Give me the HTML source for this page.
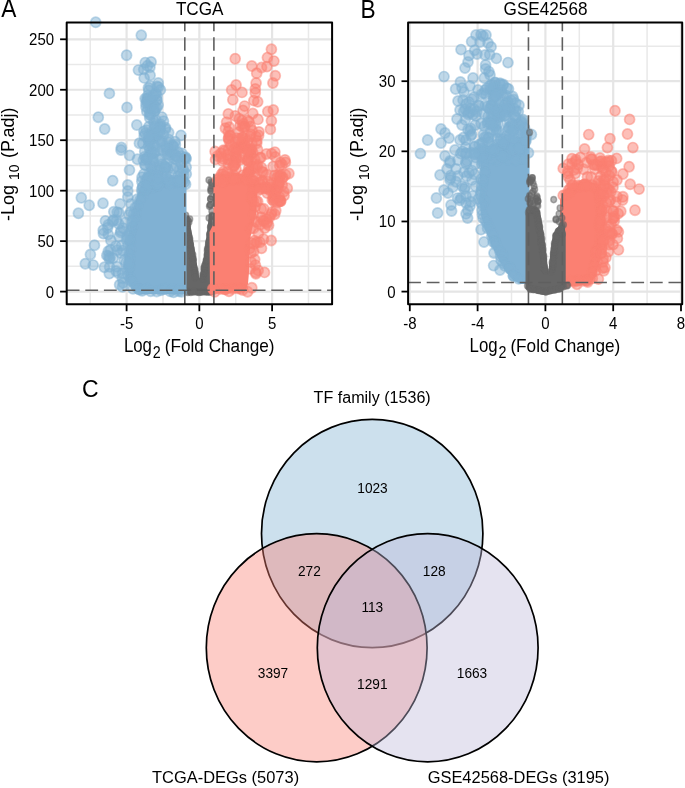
<!DOCTYPE html>
<html><head><meta charset="utf-8"><style>
html,body{margin:0;padding:0;background:#fff;width:685px;height:788px;overflow:hidden}
svg{display:block;filter:blur(0.35px)}
text{font-family:"Liberation Sans",sans-serif;fill:#000}
</style></head><body>
<svg width="685" height="788" viewBox="0 0 685 788">
<clipPath id="ca"><rect x="66.7" y="22.5" width="265.4" height="281.7"/></clipPath><g clip-path="url(#ca)"><line x1="90.22" y1="22.5" x2="90.22" y2="304.2" stroke="#e9e9e9" stroke-width="1.5"/><line x1="162.97" y1="22.5" x2="162.97" y2="304.2" stroke="#e9e9e9" stroke-width="1.5"/><line x1="235.72" y1="22.5" x2="235.72" y2="304.2" stroke="#e9e9e9" stroke-width="1.5"/><line x1="308.48" y1="22.5" x2="308.48" y2="304.2" stroke="#e9e9e9" stroke-width="1.5"/><line x1="66.7" y1="266.37" x2="332.1" y2="266.37" stroke="#e9e9e9" stroke-width="1.5"/><line x1="66.7" y1="215.91" x2="332.1" y2="215.91" stroke="#e9e9e9" stroke-width="1.5"/><line x1="66.7" y1="165.45" x2="332.1" y2="165.45" stroke="#e9e9e9" stroke-width="1.5"/><line x1="66.7" y1="114.99" x2="332.1" y2="114.99" stroke="#e9e9e9" stroke-width="1.5"/><line x1="66.7" y1="64.53" x2="332.1" y2="64.53" stroke="#e9e9e9" stroke-width="1.5"/><line x1="126.60" y1="22.5" x2="126.60" y2="304.2" stroke="#e5e5e5" stroke-width="2.2"/><line x1="199.35" y1="22.5" x2="199.35" y2="304.2" stroke="#e5e5e5" stroke-width="2.2"/><line x1="272.10" y1="22.5" x2="272.10" y2="304.2" stroke="#e5e5e5" stroke-width="2.2"/><line x1="66.7" y1="291.60" x2="332.1" y2="291.60" stroke="#e5e5e5" stroke-width="2.2"/><line x1="66.7" y1="241.14" x2="332.1" y2="241.14" stroke="#e5e5e5" stroke-width="2.2"/><line x1="66.7" y1="190.68" x2="332.1" y2="190.68" stroke="#e5e5e5" stroke-width="2.2"/><line x1="66.7" y1="140.22" x2="332.1" y2="140.22" stroke="#e5e5e5" stroke-width="2.2"/><line x1="66.7" y1="89.76" x2="332.1" y2="89.76" stroke="#e5e5e5" stroke-width="2.2"/><line x1="66.7" y1="39.30" x2="332.1" y2="39.30" stroke="#e5e5e5" stroke-width="2.2"/></g><path d="M186.0 218.0 L189.0 215.5 L191.3 230.0 L193.5 243.0 L195.8 256.7 L199.3 278.5 L203.8 256.7 L205.5 243.0 L207.3 230.0 L209.0 214.0 L212.0 213.0 L212.0 292.0 L209.0 295.3 L189.0 295.3 L186.0 292.0Z" fill="#666666"/><g fill="#666666" fill-opacity="0.5" stroke="#666666" stroke-opacity="0.5" stroke-width="1.4"><ellipse cx="210.0" cy="205.0" rx="2.9" ry="3.1"/><ellipse cx="211.0" cy="190.0" rx="2.9" ry="3.1"/><ellipse cx="211.0" cy="182.0" rx="2.9" ry="3.1"/><ellipse cx="212.0" cy="197.0" rx="2.9" ry="3.1"/><ellipse cx="209.0" cy="218.0" rx="2.9" ry="3.1"/><ellipse cx="189.0" cy="222.0" rx="2.9" ry="3.1"/><ellipse cx="188.0" cy="220.4" rx="2.9" ry="3.1"/><ellipse cx="189.8" cy="219.0" rx="2.9" ry="3.1"/><ellipse cx="185.8" cy="215.4" rx="2.9" ry="3.1"/><ellipse cx="185.5" cy="218.0" rx="2.9" ry="3.1"/><ellipse cx="187.0" cy="219.8" rx="2.9" ry="3.1"/><ellipse cx="186.9" cy="222.6" rx="2.9" ry="3.1"/><ellipse cx="186.9" cy="225.1" rx="2.9" ry="3.1"/><ellipse cx="187.8" cy="224.8" rx="2.9" ry="3.1"/><ellipse cx="186.9" cy="226.8" rx="2.9" ry="3.1"/><ellipse cx="187.5" cy="230.3" rx="2.9" ry="3.1"/><ellipse cx="188.0" cy="231.8" rx="2.9" ry="3.1"/><ellipse cx="187.7" cy="232.1" rx="2.9" ry="3.1"/><ellipse cx="188.8" cy="235.2" rx="2.9" ry="3.1"/><ellipse cx="189.1" cy="236.9" rx="2.9" ry="3.1"/><ellipse cx="189.9" cy="239.0" rx="2.9" ry="3.1"/><ellipse cx="189.8" cy="241.5" rx="2.9" ry="3.1"/><ellipse cx="189.8" cy="243.8" rx="2.9" ry="3.1"/><ellipse cx="190.2" cy="244.2" rx="2.9" ry="3.1"/><ellipse cx="190.6" cy="245.1" rx="2.9" ry="3.1"/><ellipse cx="191.5" cy="248.9" rx="2.9" ry="3.1"/><ellipse cx="191.2" cy="251.4" rx="2.9" ry="3.1"/><ellipse cx="191.9" cy="252.5" rx="2.9" ry="3.1"/><ellipse cx="192.9" cy="254.9" rx="2.9" ry="3.1"/><ellipse cx="191.7" cy="256.9" rx="2.9" ry="3.1"/><ellipse cx="193.5" cy="258.9" rx="2.9" ry="3.1"/><ellipse cx="192.7" cy="259.8" rx="2.9" ry="3.1"/><ellipse cx="193.1" cy="260.4" rx="2.9" ry="3.1"/><ellipse cx="192.7" cy="263.3" rx="2.9" ry="3.1"/><ellipse cx="193.3" cy="264.6" rx="2.9" ry="3.1"/><ellipse cx="193.6" cy="267.8" rx="2.9" ry="3.1"/><ellipse cx="195.1" cy="269.6" rx="2.9" ry="3.1"/><ellipse cx="194.5" cy="271.4" rx="2.9" ry="3.1"/><ellipse cx="195.6" cy="273.1" rx="2.9" ry="3.1"/><ellipse cx="194.7" cy="273.4" rx="2.9" ry="3.1"/><ellipse cx="195.5" cy="276.0" rx="2.9" ry="3.1"/><ellipse cx="195.0" cy="277.6" rx="2.9" ry="3.1"/><ellipse cx="202.8" cy="279.2" rx="2.9" ry="3.1"/><ellipse cx="203.2" cy="276.3" rx="2.9" ry="3.1"/><ellipse cx="202.8" cy="274.9" rx="2.9" ry="3.1"/><ellipse cx="204.5" cy="272.8" rx="2.9" ry="3.1"/><ellipse cx="204.0" cy="270.6" rx="2.9" ry="3.1"/><ellipse cx="203.9" cy="268.2" rx="2.9" ry="3.1"/><ellipse cx="204.3" cy="267.6" rx="2.9" ry="3.1"/><ellipse cx="204.4" cy="265.8" rx="2.9" ry="3.1"/><ellipse cx="205.4" cy="263.7" rx="2.9" ry="3.1"/><ellipse cx="206.4" cy="260.7" rx="2.9" ry="3.1"/><ellipse cx="206.1" cy="260.3" rx="2.9" ry="3.1"/><ellipse cx="207.3" cy="259.7" rx="2.9" ry="3.1"/><ellipse cx="207.2" cy="255.5" rx="2.9" ry="3.1"/><ellipse cx="207.1" cy="254.6" rx="2.9" ry="3.1"/><ellipse cx="207.2" cy="250.8" rx="2.9" ry="3.1"/><ellipse cx="208.1" cy="248.8" rx="2.9" ry="3.1"/><ellipse cx="207.4" cy="248.3" rx="2.9" ry="3.1"/><ellipse cx="209.1" cy="245.7" rx="2.9" ry="3.1"/><ellipse cx="208.4" cy="244.3" rx="2.9" ry="3.1"/><ellipse cx="209.0" cy="242.5" rx="2.9" ry="3.1"/><ellipse cx="208.7" cy="241.5" rx="2.9" ry="3.1"/><ellipse cx="210.1" cy="238.4" rx="2.9" ry="3.1"/><ellipse cx="210.1" cy="235.9" rx="2.9" ry="3.1"/><ellipse cx="209.7" cy="234.3" rx="2.9" ry="3.1"/><ellipse cx="209.7" cy="233.7" rx="2.9" ry="3.1"/><ellipse cx="211.2" cy="230.9" rx="2.9" ry="3.1"/><ellipse cx="211.6" cy="229.2" rx="2.9" ry="3.1"/><ellipse cx="210.4" cy="227.2" rx="2.9" ry="3.1"/><ellipse cx="210.6" cy="226.2" rx="2.9" ry="3.1"/><ellipse cx="212.0" cy="222.5" rx="2.9" ry="3.1"/><ellipse cx="212.0" cy="220.4" rx="2.9" ry="3.1"/><ellipse cx="212.4" cy="219.5" rx="2.9" ry="3.1"/><ellipse cx="212.0" cy="216.3" rx="2.9" ry="3.1"/><ellipse cx="212.0" cy="215.3" rx="2.9" ry="3.1"/><ellipse cx="212.8" cy="216.0" rx="2.9" ry="3.1"/><ellipse cx="188.0" cy="291.6" rx="2.9" ry="3.1"/><ellipse cx="187.7" cy="292.5" rx="2.9" ry="3.1"/><ellipse cx="190.8" cy="292.4" rx="2.9" ry="3.1"/><ellipse cx="193.6" cy="291.8" rx="2.9" ry="3.1"/><ellipse cx="194.0" cy="291.4" rx="2.9" ry="3.1"/><ellipse cx="197.3" cy="292.0" rx="2.9" ry="3.1"/><ellipse cx="198.8" cy="292.4" rx="2.9" ry="3.1"/><ellipse cx="200.2" cy="291.7" rx="2.9" ry="3.1"/><ellipse cx="201.1" cy="292.1" rx="2.9" ry="3.1"/><ellipse cx="203.1" cy="291.6" rx="2.9" ry="3.1"/><ellipse cx="206.1" cy="291.9" rx="2.9" ry="3.1"/><ellipse cx="208.0" cy="291.9" rx="2.9" ry="3.1"/><ellipse cx="210.0" cy="292.0" rx="2.9" ry="3.1"/><ellipse cx="210.5" cy="291.9" rx="2.9" ry="3.1"/><ellipse cx="208.9" cy="180.1" rx="2.9" ry="3.1"/><ellipse cx="212.0" cy="185.9" rx="2.9" ry="3.1"/><ellipse cx="210.4" cy="204.7" rx="2.9" ry="3.1"/><ellipse cx="210.8" cy="191.1" rx="2.9" ry="3.1"/><ellipse cx="210.6" cy="198.9" rx="2.9" ry="3.1"/><ellipse cx="211.9" cy="183.6" rx="2.9" ry="3.1"/><ellipse cx="210.8" cy="188.4" rx="2.9" ry="3.1"/><ellipse cx="209.4" cy="206.3" rx="2.9" ry="3.1"/><ellipse cx="210.5" cy="199.1" rx="2.9" ry="3.1"/><ellipse cx="211.8" cy="211.0" rx="2.9" ry="3.1"/></g><path d="M139.0 190.0 L150.0 183.0 L165.0 178.0 L178.0 176.0 L186.5 178.0 L186.5 290.0 L184.0 294.0 L142.0 294.0 L132.0 290.0 L126.0 278.0 L125.0 258.0 L128.0 238.0 L133.0 209.0Z" fill="#80b1d3"/><g fill="#80b1d3" fill-opacity="0.5" stroke="#80b1d3" stroke-opacity="0.5" stroke-width="1.7"><ellipse cx="95.7" cy="22.3" rx="5.0" ry="5.1"/><ellipse cx="141.3" cy="35.3" rx="5.0" ry="5.1"/><ellipse cx="126.6" cy="55.2" rx="5.0" ry="5.1"/><ellipse cx="145.2" cy="62.6" rx="5.0" ry="5.1"/><ellipse cx="151.1" cy="61.9" rx="5.0" ry="5.1"/><ellipse cx="138.4" cy="70.1" rx="5.0" ry="5.1"/><ellipse cx="150.1" cy="75.2" rx="5.0" ry="5.1"/><ellipse cx="144.2" cy="77.9" rx="5.0" ry="5.1"/><ellipse cx="158.3" cy="83.0" rx="5.0" ry="5.1"/><ellipse cx="109.4" cy="93.4" rx="5.0" ry="5.1"/><ellipse cx="127.0" cy="107.4" rx="5.0" ry="5.1"/><ellipse cx="98.3" cy="117.2" rx="5.0" ry="5.1"/><ellipse cx="104.7" cy="129.0" rx="5.0" ry="5.1"/><ellipse cx="136.8" cy="125.0" rx="5.0" ry="5.1"/><ellipse cx="181.0" cy="135.4" rx="5.0" ry="5.1"/><ellipse cx="121.4" cy="147.5" rx="5.0" ry="5.1"/><ellipse cx="129.6" cy="155.4" rx="5.0" ry="5.1"/><ellipse cx="137.4" cy="159.3" rx="5.0" ry="5.1"/><ellipse cx="178.5" cy="157.9" rx="5.0" ry="5.1"/><ellipse cx="168.7" cy="132.5" rx="5.0" ry="5.1"/><ellipse cx="171.6" cy="145.2" rx="5.0" ry="5.1"/><ellipse cx="139.4" cy="143.2" rx="5.0" ry="5.1"/><ellipse cx="146.4" cy="130.1" rx="5.0" ry="5.1"/><ellipse cx="142.8" cy="143.4" rx="5.0" ry="5.1"/><ellipse cx="129.5" cy="170.0" rx="5.0" ry="5.1"/><ellipse cx="112.7" cy="180.7" rx="5.0" ry="5.1"/><ellipse cx="142.0" cy="177.2" rx="5.0" ry="5.1"/><ellipse cx="127.8" cy="185.0" rx="5.0" ry="5.1"/><ellipse cx="127.8" cy="191.0" rx="5.0" ry="5.1"/><ellipse cx="127.8" cy="197.0" rx="5.0" ry="5.1"/><ellipse cx="81.3" cy="197.8" rx="5.0" ry="5.1"/><ellipse cx="89.2" cy="205.3" rx="5.0" ry="5.1"/><ellipse cx="103.0" cy="203.3" rx="5.0" ry="5.1"/><ellipse cx="78.4" cy="213.3" rx="5.0" ry="5.1"/><ellipse cx="113.8" cy="211.8" rx="5.0" ry="5.1"/><ellipse cx="120.1" cy="204.0" rx="5.0" ry="5.1"/><ellipse cx="108.3" cy="224.8" rx="5.0" ry="5.1"/><ellipse cx="103.4" cy="233.6" rx="5.0" ry="5.1"/><ellipse cx="108.3" cy="234.6" rx="5.0" ry="5.1"/><ellipse cx="110.9" cy="240.5" rx="5.0" ry="5.1"/><ellipse cx="94.5" cy="245.2" rx="5.0" ry="5.1"/><ellipse cx="90.4" cy="254.5" rx="5.0" ry="5.1"/><ellipse cx="85.3" cy="263.7" rx="5.0" ry="5.1"/><ellipse cx="93.2" cy="265.1" rx="5.0" ry="5.1"/><ellipse cx="104.4" cy="267.3" rx="5.0" ry="5.1"/><ellipse cx="109.3" cy="273.6" rx="5.0" ry="5.1"/><ellipse cx="108.3" cy="251.3" rx="5.0" ry="5.1"/><ellipse cx="117.2" cy="250.3" rx="5.0" ry="5.1"/><ellipse cx="118.1" cy="273.0" rx="5.0" ry="5.1"/><ellipse cx="123.1" cy="282.8" rx="5.0" ry="5.1"/><ellipse cx="121.0" cy="150.0" rx="5.0" ry="5.1"/><ellipse cx="119.1" cy="213.0" rx="5.0" ry="5.1"/><ellipse cx="129.0" cy="215.0" rx="5.0" ry="5.1"/><ellipse cx="121.0" cy="230.7" rx="5.0" ry="5.1"/><ellipse cx="184.4" cy="182.3" rx="5.0" ry="5.1"/><ellipse cx="181.7" cy="180.7" rx="5.0" ry="5.1"/><ellipse cx="177.9" cy="181.5" rx="5.0" ry="5.1"/><ellipse cx="177.9" cy="181.5" rx="5.0" ry="5.1"/><ellipse cx="174.7" cy="181.7" rx="5.0" ry="5.1"/><ellipse cx="167.7" cy="178.9" rx="5.0" ry="5.1"/><ellipse cx="165.4" cy="179.7" rx="5.0" ry="5.1"/><ellipse cx="166.5" cy="182.4" rx="5.0" ry="5.1"/><ellipse cx="158.8" cy="183.9" rx="5.0" ry="5.1"/><ellipse cx="156.5" cy="185.4" rx="5.0" ry="5.1"/><ellipse cx="152.9" cy="187.0" rx="5.0" ry="5.1"/><ellipse cx="152.8" cy="187.6" rx="5.0" ry="5.1"/><ellipse cx="147.9" cy="186.9" rx="5.0" ry="5.1"/><ellipse cx="146.8" cy="187.0" rx="5.0" ry="5.1"/><ellipse cx="146.3" cy="187.6" rx="5.0" ry="5.1"/><ellipse cx="141.7" cy="189.8" rx="5.0" ry="5.1"/><ellipse cx="142.3" cy="192.1" rx="5.0" ry="5.1"/><ellipse cx="143.1" cy="195.6" rx="5.0" ry="5.1"/><ellipse cx="137.3" cy="199.3" rx="5.0" ry="5.1"/><ellipse cx="140.2" cy="199.6" rx="5.0" ry="5.1"/><ellipse cx="137.6" cy="205.9" rx="5.0" ry="5.1"/><ellipse cx="135.2" cy="207.8" rx="5.0" ry="5.1"/><ellipse cx="136.0" cy="213.4" rx="5.0" ry="5.1"/><ellipse cx="133.6" cy="213.9" rx="5.0" ry="5.1"/><ellipse cx="132.9" cy="219.3" rx="5.0" ry="5.1"/><ellipse cx="135.5" cy="219.4" rx="5.0" ry="5.1"/><ellipse cx="131.5" cy="226.8" rx="5.0" ry="5.1"/><ellipse cx="132.4" cy="227.4" rx="5.0" ry="5.1"/><ellipse cx="131.3" cy="230.2" rx="5.0" ry="5.1"/><ellipse cx="130.8" cy="232.1" rx="5.0" ry="5.1"/><ellipse cx="129.6" cy="234.5" rx="5.0" ry="5.1"/><ellipse cx="130.2" cy="240.7" rx="5.0" ry="5.1"/><ellipse cx="130.5" cy="241.4" rx="5.0" ry="5.1"/><ellipse cx="127.9" cy="245.2" rx="5.0" ry="5.1"/><ellipse cx="130.7" cy="248.8" rx="5.0" ry="5.1"/><ellipse cx="129.0" cy="254.4" rx="5.0" ry="5.1"/><ellipse cx="130.0" cy="255.2" rx="5.0" ry="5.1"/><ellipse cx="129.8" cy="259.0" rx="5.0" ry="5.1"/><ellipse cx="129.3" cy="265.0" rx="5.0" ry="5.1"/><ellipse cx="130.0" cy="266.6" rx="5.0" ry="5.1"/><ellipse cx="128.4" cy="269.3" rx="5.0" ry="5.1"/><ellipse cx="127.2" cy="269.5" rx="5.0" ry="5.1"/><ellipse cx="128.1" cy="275.5" rx="5.0" ry="5.1"/><ellipse cx="130.5" cy="278.5" rx="5.0" ry="5.1"/><ellipse cx="130.4" cy="280.4" rx="5.0" ry="5.1"/><ellipse cx="132.1" cy="281.9" rx="5.0" ry="5.1"/><ellipse cx="133.0" cy="288.9" rx="5.0" ry="5.1"/><ellipse cx="136.6" cy="287.2" rx="5.0" ry="5.1"/><ellipse cx="138.9" cy="289.0" rx="5.0" ry="5.1"/><ellipse cx="139.3" cy="289.6" rx="5.0" ry="5.1"/><ellipse cx="142.2" cy="290.8" rx="5.0" ry="5.1"/><ellipse cx="144.0" cy="289.0" rx="5.0" ry="5.1"/><ellipse cx="147.2" cy="288.7" rx="5.0" ry="5.1"/><ellipse cx="150.7" cy="291.2" rx="5.0" ry="5.1"/><ellipse cx="156.7" cy="291.5" rx="5.0" ry="5.1"/><ellipse cx="160.8" cy="290.3" rx="5.0" ry="5.1"/><ellipse cx="163.1" cy="289.3" rx="5.0" ry="5.1"/><ellipse cx="165.8" cy="288.8" rx="5.0" ry="5.1"/><ellipse cx="170.2" cy="291.4" rx="5.0" ry="5.1"/><ellipse cx="172.6" cy="289.2" rx="5.0" ry="5.1"/><ellipse cx="173.6" cy="292.3" rx="5.0" ry="5.1"/><ellipse cx="178.9" cy="291.2" rx="5.0" ry="5.1"/><ellipse cx="181.5" cy="291.7" rx="5.0" ry="5.1"/><ellipse cx="179.6" cy="289.2" rx="5.0" ry="5.1"/><ellipse cx="149.9" cy="67.2" rx="5.0" ry="5.1"/><ellipse cx="160.4" cy="89.9" rx="5.0" ry="5.1"/><ellipse cx="155.8" cy="93.3" rx="5.0" ry="5.1"/><ellipse cx="157.0" cy="86.5" rx="5.0" ry="5.1"/><ellipse cx="158.5" cy="87.1" rx="5.0" ry="5.1"/><ellipse cx="153.8" cy="95.0" rx="5.0" ry="5.1"/><ellipse cx="147.5" cy="65.7" rx="5.0" ry="5.1"/><ellipse cx="147.8" cy="98.5" rx="5.0" ry="5.1"/><ellipse cx="146.5" cy="99.0" rx="5.0" ry="5.1"/><ellipse cx="150.4" cy="86.0" rx="5.0" ry="5.1"/><ellipse cx="157.0" cy="100.3" rx="5.0" ry="5.1"/><ellipse cx="155.6" cy="94.1" rx="5.0" ry="5.1"/><ellipse cx="143.7" cy="69.4" rx="5.0" ry="5.1"/><ellipse cx="147.6" cy="99.2" rx="5.0" ry="5.1"/><ellipse cx="148.7" cy="90.4" rx="5.0" ry="5.1"/><ellipse cx="147.9" cy="95.6" rx="5.0" ry="5.1"/><ellipse cx="157.2" cy="95.8" rx="5.0" ry="5.1"/><ellipse cx="148.4" cy="87.8" rx="5.0" ry="5.1"/><ellipse cx="154.2" cy="111.3" rx="5.0" ry="5.1"/><ellipse cx="154.1" cy="123.7" rx="5.0" ry="5.1"/><ellipse cx="149.9" cy="102.3" rx="5.0" ry="5.1"/><ellipse cx="156.8" cy="100.0" rx="5.0" ry="5.1"/><ellipse cx="155.2" cy="126.0" rx="5.0" ry="5.1"/><ellipse cx="154.8" cy="110.8" rx="5.0" ry="5.1"/><ellipse cx="150.6" cy="99.9" rx="5.0" ry="5.1"/><ellipse cx="151.6" cy="106.1" rx="5.0" ry="5.1"/><ellipse cx="160.5" cy="124.4" rx="5.0" ry="5.1"/><ellipse cx="159.7" cy="126.6" rx="5.0" ry="5.1"/><ellipse cx="150.4" cy="108.0" rx="5.0" ry="5.1"/><ellipse cx="157.0" cy="107.6" rx="5.0" ry="5.1"/><ellipse cx="153.4" cy="104.6" rx="5.0" ry="5.1"/><ellipse cx="145.1" cy="98.6" rx="5.0" ry="5.1"/><ellipse cx="149.8" cy="112.9" rx="5.0" ry="5.1"/><ellipse cx="148.2" cy="108.1" rx="5.0" ry="5.1"/><ellipse cx="161.9" cy="117.1" rx="5.0" ry="5.1"/><ellipse cx="156.1" cy="120.2" rx="5.0" ry="5.1"/><ellipse cx="153.9" cy="121.3" rx="5.0" ry="5.1"/><ellipse cx="158.2" cy="105.0" rx="5.0" ry="5.1"/><ellipse cx="146.8" cy="111.5" rx="5.0" ry="5.1"/><ellipse cx="151.6" cy="105.4" rx="5.0" ry="5.1"/><ellipse cx="149.7" cy="118.0" rx="5.0" ry="5.1"/><ellipse cx="150.6" cy="114.5" rx="5.0" ry="5.1"/><ellipse cx="152.7" cy="100.9" rx="5.0" ry="5.1"/><ellipse cx="147.6" cy="102.3" rx="5.0" ry="5.1"/><ellipse cx="148.8" cy="126.7" rx="5.0" ry="5.1"/><ellipse cx="147.1" cy="101.7" rx="5.0" ry="5.1"/><ellipse cx="146.0" cy="107.0" rx="5.0" ry="5.1"/><ellipse cx="146.0" cy="103.4" rx="5.0" ry="5.1"/><ellipse cx="149.7" cy="114.9" rx="5.0" ry="5.1"/><ellipse cx="163.5" cy="121.2" rx="5.0" ry="5.1"/><ellipse cx="153.1" cy="109.5" rx="5.0" ry="5.1"/><ellipse cx="155.5" cy="108.2" rx="5.0" ry="5.1"/><ellipse cx="151.4" cy="97.2" rx="5.0" ry="5.1"/><ellipse cx="145.9" cy="158.7" rx="5.0" ry="5.1"/><ellipse cx="169.3" cy="182.8" rx="5.0" ry="5.1"/><ellipse cx="150.0" cy="143.2" rx="5.0" ry="5.1"/><ellipse cx="151.6" cy="151.8" rx="5.0" ry="5.1"/><ellipse cx="179.5" cy="183.5" rx="5.0" ry="5.1"/><ellipse cx="162.0" cy="164.3" rx="5.0" ry="5.1"/><ellipse cx="183.1" cy="180.3" rx="5.0" ry="5.1"/><ellipse cx="151.6" cy="132.3" rx="5.0" ry="5.1"/><ellipse cx="147.2" cy="160.0" rx="5.0" ry="5.1"/><ellipse cx="173.6" cy="168.4" rx="5.0" ry="5.1"/><ellipse cx="175.6" cy="155.6" rx="5.0" ry="5.1"/><ellipse cx="165.6" cy="127.6" rx="5.0" ry="5.1"/><ellipse cx="182.8" cy="168.2" rx="5.0" ry="5.1"/><ellipse cx="154.1" cy="133.6" rx="5.0" ry="5.1"/><ellipse cx="151.7" cy="167.6" rx="5.0" ry="5.1"/><ellipse cx="143.3" cy="160.1" rx="5.0" ry="5.1"/><ellipse cx="167.1" cy="151.0" rx="5.0" ry="5.1"/><ellipse cx="150.4" cy="165.3" rx="5.0" ry="5.1"/><ellipse cx="170.0" cy="184.2" rx="5.0" ry="5.1"/><ellipse cx="162.1" cy="140.7" rx="5.0" ry="5.1"/><ellipse cx="172.8" cy="145.6" rx="5.0" ry="5.1"/><ellipse cx="171.4" cy="153.1" rx="5.0" ry="5.1"/><ellipse cx="152.0" cy="169.7" rx="5.0" ry="5.1"/><ellipse cx="159.6" cy="170.7" rx="5.0" ry="5.1"/><ellipse cx="149.2" cy="178.4" rx="5.0" ry="5.1"/><ellipse cx="174.4" cy="158.8" rx="5.0" ry="5.1"/><ellipse cx="154.5" cy="179.9" rx="5.0" ry="5.1"/><ellipse cx="150.7" cy="139.8" rx="5.0" ry="5.1"/><ellipse cx="175.4" cy="144.8" rx="5.0" ry="5.1"/><ellipse cx="184.3" cy="158.2" rx="5.0" ry="5.1"/><ellipse cx="148.7" cy="140.0" rx="5.0" ry="5.1"/><ellipse cx="159.4" cy="169.6" rx="5.0" ry="5.1"/><ellipse cx="158.3" cy="139.3" rx="5.0" ry="5.1"/><ellipse cx="158.3" cy="185.2" rx="5.0" ry="5.1"/><ellipse cx="181.1" cy="174.1" rx="5.0" ry="5.1"/><ellipse cx="155.3" cy="137.4" rx="5.0" ry="5.1"/><ellipse cx="183.5" cy="175.0" rx="5.0" ry="5.1"/><ellipse cx="157.6" cy="150.1" rx="5.0" ry="5.1"/><ellipse cx="155.4" cy="136.3" rx="5.0" ry="5.1"/><ellipse cx="145.8" cy="189.6" rx="5.0" ry="5.1"/><ellipse cx="149.6" cy="148.9" rx="5.0" ry="5.1"/><ellipse cx="178.2" cy="180.1" rx="5.0" ry="5.1"/><ellipse cx="160.1" cy="128.3" rx="5.0" ry="5.1"/><ellipse cx="162.0" cy="150.0" rx="5.0" ry="5.1"/><ellipse cx="156.9" cy="185.1" rx="5.0" ry="5.1"/><ellipse cx="177.7" cy="176.4" rx="5.0" ry="5.1"/><ellipse cx="142.9" cy="186.6" rx="5.0" ry="5.1"/><ellipse cx="152.0" cy="175.1" rx="5.0" ry="5.1"/><ellipse cx="168.7" cy="142.6" rx="5.0" ry="5.1"/><ellipse cx="173.3" cy="146.2" rx="5.0" ry="5.1"/><ellipse cx="151.7" cy="153.8" rx="5.0" ry="5.1"/><ellipse cx="148.5" cy="178.8" rx="5.0" ry="5.1"/><ellipse cx="174.3" cy="180.1" rx="5.0" ry="5.1"/><ellipse cx="175.9" cy="165.7" rx="5.0" ry="5.1"/><ellipse cx="155.2" cy="146.4" rx="5.0" ry="5.1"/><ellipse cx="156.8" cy="177.4" rx="5.0" ry="5.1"/><ellipse cx="175.0" cy="141.6" rx="5.0" ry="5.1"/><ellipse cx="165.7" cy="146.8" rx="5.0" ry="5.1"/><ellipse cx="185.6" cy="184.2" rx="5.0" ry="5.1"/><ellipse cx="143.9" cy="131.5" rx="5.0" ry="5.1"/><ellipse cx="163.2" cy="172.6" rx="5.0" ry="5.1"/><ellipse cx="160.8" cy="140.7" rx="5.0" ry="5.1"/><ellipse cx="159.4" cy="166.6" rx="5.0" ry="5.1"/><ellipse cx="171.3" cy="175.1" rx="5.0" ry="5.1"/><ellipse cx="179.4" cy="169.5" rx="5.0" ry="5.1"/><ellipse cx="145.6" cy="181.3" rx="5.0" ry="5.1"/><ellipse cx="153.7" cy="163.0" rx="5.0" ry="5.1"/><ellipse cx="157.3" cy="174.5" rx="5.0" ry="5.1"/><ellipse cx="149.3" cy="141.6" rx="5.0" ry="5.1"/><ellipse cx="151.4" cy="135.3" rx="5.0" ry="5.1"/><ellipse cx="181.1" cy="163.7" rx="5.0" ry="5.1"/><ellipse cx="155.2" cy="151.5" rx="5.0" ry="5.1"/><ellipse cx="186.1" cy="159.0" rx="5.0" ry="5.1"/><ellipse cx="150.8" cy="179.2" rx="5.0" ry="5.1"/><ellipse cx="144.8" cy="156.8" rx="5.0" ry="5.1"/><ellipse cx="178.1" cy="181.3" rx="5.0" ry="5.1"/><ellipse cx="153.7" cy="133.0" rx="5.0" ry="5.1"/><ellipse cx="157.3" cy="183.0" rx="5.0" ry="5.1"/><ellipse cx="160.9" cy="142.4" rx="5.0" ry="5.1"/><ellipse cx="144.9" cy="164.9" rx="5.0" ry="5.1"/><ellipse cx="168.8" cy="139.6" rx="5.0" ry="5.1"/><ellipse cx="157.1" cy="134.5" rx="5.0" ry="5.1"/><ellipse cx="149.5" cy="142.1" rx="5.0" ry="5.1"/><ellipse cx="167.9" cy="168.7" rx="5.0" ry="5.1"/><ellipse cx="155.2" cy="170.4" rx="5.0" ry="5.1"/><ellipse cx="148.6" cy="145.9" rx="5.0" ry="5.1"/><ellipse cx="149.5" cy="178.3" rx="5.0" ry="5.1"/><ellipse cx="165.5" cy="129.2" rx="5.0" ry="5.1"/><ellipse cx="144.7" cy="151.5" rx="5.0" ry="5.1"/><ellipse cx="165.6" cy="167.8" rx="5.0" ry="5.1"/><ellipse cx="144.2" cy="136.0" rx="5.0" ry="5.1"/><ellipse cx="172.3" cy="152.5" rx="5.0" ry="5.1"/><ellipse cx="153.2" cy="145.6" rx="5.0" ry="5.1"/><ellipse cx="166.3" cy="148.9" rx="5.0" ry="5.1"/><ellipse cx="159.4" cy="182.9" rx="5.0" ry="5.1"/><ellipse cx="149.2" cy="173.8" rx="5.0" ry="5.1"/><ellipse cx="181.9" cy="153.4" rx="5.0" ry="5.1"/><ellipse cx="178.1" cy="152.2" rx="5.0" ry="5.1"/><ellipse cx="181.1" cy="155.9" rx="5.0" ry="5.1"/><ellipse cx="165.6" cy="167.9" rx="5.0" ry="5.1"/><ellipse cx="168.9" cy="149.8" rx="5.0" ry="5.1"/><ellipse cx="163.5" cy="134.8" rx="5.0" ry="5.1"/><ellipse cx="153.2" cy="159.9" rx="5.0" ry="5.1"/><ellipse cx="162.8" cy="178.9" rx="5.0" ry="5.1"/><ellipse cx="145.9" cy="188.2" rx="5.0" ry="5.1"/><ellipse cx="185.4" cy="157.3" rx="5.0" ry="5.1"/><ellipse cx="142.5" cy="187.1" rx="5.0" ry="5.1"/><ellipse cx="158.0" cy="185.6" rx="5.0" ry="5.1"/><ellipse cx="168.8" cy="180.2" rx="5.0" ry="5.1"/><ellipse cx="147.5" cy="177.7" rx="5.0" ry="5.1"/><ellipse cx="150.3" cy="152.1" rx="5.0" ry="5.1"/><ellipse cx="179.4" cy="180.6" rx="5.0" ry="5.1"/><ellipse cx="148.5" cy="139.6" rx="5.0" ry="5.1"/><ellipse cx="158.6" cy="159.7" rx="5.0" ry="5.1"/><ellipse cx="157.8" cy="133.2" rx="5.0" ry="5.1"/><ellipse cx="151.5" cy="173.6" rx="5.0" ry="5.1"/><ellipse cx="166.1" cy="175.7" rx="5.0" ry="5.1"/><ellipse cx="141.8" cy="181.2" rx="5.0" ry="5.1"/><ellipse cx="145.5" cy="165.2" rx="5.0" ry="5.1"/><ellipse cx="165.6" cy="167.0" rx="5.0" ry="5.1"/><ellipse cx="154.2" cy="153.1" rx="5.0" ry="5.1"/><ellipse cx="167.1" cy="153.5" rx="5.0" ry="5.1"/><ellipse cx="170.6" cy="154.9" rx="5.0" ry="5.1"/><ellipse cx="160.4" cy="126.6" rx="5.0" ry="5.1"/><ellipse cx="168.8" cy="157.8" rx="5.0" ry="5.1"/><ellipse cx="150.9" cy="176.2" rx="5.0" ry="5.1"/><ellipse cx="176.3" cy="155.7" rx="5.0" ry="5.1"/><ellipse cx="148.3" cy="156.7" rx="5.0" ry="5.1"/><ellipse cx="145.0" cy="133.6" rx="5.0" ry="5.1"/><ellipse cx="160.0" cy="131.1" rx="5.0" ry="5.1"/><ellipse cx="160.6" cy="159.2" rx="5.0" ry="5.1"/><ellipse cx="143.8" cy="174.1" rx="5.0" ry="5.1"/><ellipse cx="176.2" cy="159.3" rx="5.0" ry="5.1"/><ellipse cx="146.3" cy="182.4" rx="5.0" ry="5.1"/><ellipse cx="186.3" cy="174.0" rx="5.0" ry="5.1"/><ellipse cx="185.7" cy="158.0" rx="5.0" ry="5.1"/><ellipse cx="147.7" cy="177.8" rx="5.0" ry="5.1"/><ellipse cx="156.3" cy="175.7" rx="5.0" ry="5.1"/><ellipse cx="147.4" cy="185.1" rx="5.0" ry="5.1"/><ellipse cx="152.8" cy="179.6" rx="5.0" ry="5.1"/><ellipse cx="146.7" cy="158.6" rx="5.0" ry="5.1"/><ellipse cx="152.2" cy="158.9" rx="5.0" ry="5.1"/><ellipse cx="154.8" cy="127.5" rx="5.0" ry="5.1"/><ellipse cx="148.5" cy="135.8" rx="5.0" ry="5.1"/><ellipse cx="183.5" cy="170.5" rx="5.0" ry="5.1"/><ellipse cx="164.7" cy="167.6" rx="5.0" ry="5.1"/><ellipse cx="156.7" cy="183.5" rx="5.0" ry="5.1"/><ellipse cx="165.8" cy="163.9" rx="5.0" ry="5.1"/><ellipse cx="186.2" cy="167.2" rx="5.0" ry="5.1"/><ellipse cx="158.3" cy="178.4" rx="5.0" ry="5.1"/><ellipse cx="120.5" cy="232.4" rx="5.0" ry="5.1"/><ellipse cx="126.5" cy="239.8" rx="5.0" ry="5.1"/><ellipse cx="110.1" cy="257.5" rx="5.0" ry="5.1"/><ellipse cx="123.2" cy="228.1" rx="5.0" ry="5.1"/><ellipse cx="106.8" cy="255.4" rx="5.0" ry="5.1"/><ellipse cx="115.8" cy="246.1" rx="5.0" ry="5.1"/><ellipse cx="130.7" cy="211.9" rx="5.0" ry="5.1"/><ellipse cx="109.3" cy="258.8" rx="5.0" ry="5.1"/><ellipse cx="113.4" cy="220.2" rx="5.0" ry="5.1"/><ellipse cx="120.7" cy="253.0" rx="5.0" ry="5.1"/><ellipse cx="108.5" cy="256.2" rx="5.0" ry="5.1"/><ellipse cx="117.2" cy="212.1" rx="5.0" ry="5.1"/><ellipse cx="132.0" cy="221.9" rx="5.0" ry="5.1"/><ellipse cx="122.4" cy="278.4" rx="5.0" ry="5.1"/><ellipse cx="127.0" cy="236.2" rx="5.0" ry="5.1"/><ellipse cx="122.6" cy="250.6" rx="5.0" ry="5.1"/><ellipse cx="113.2" cy="258.1" rx="5.0" ry="5.1"/><ellipse cx="125.5" cy="222.4" rx="5.0" ry="5.1"/><ellipse cx="130.9" cy="204.0" rx="5.0" ry="5.1"/><ellipse cx="119.0" cy="236.5" rx="5.0" ry="5.1"/><ellipse cx="119.6" cy="284.7" rx="5.0" ry="5.1"/><ellipse cx="121.5" cy="245.6" rx="5.0" ry="5.1"/><ellipse cx="122.5" cy="273.2" rx="5.0" ry="5.1"/><ellipse cx="107.6" cy="227.8" rx="5.0" ry="5.1"/><ellipse cx="129.0" cy="267.1" rx="5.0" ry="5.1"/><ellipse cx="116.9" cy="266.8" rx="5.0" ry="5.1"/><ellipse cx="116.5" cy="220.3" rx="5.0" ry="5.1"/><ellipse cx="105.4" cy="220.9" rx="5.0" ry="5.1"/><ellipse cx="103.2" cy="230.2" rx="5.0" ry="5.1"/><ellipse cx="126.0" cy="262.6" rx="5.0" ry="5.1"/><ellipse cx="129.1" cy="264.1" rx="5.0" ry="5.1"/><ellipse cx="110.5" cy="249.8" rx="5.0" ry="5.1"/><ellipse cx="116.0" cy="271.0" rx="5.0" ry="5.1"/><ellipse cx="118.7" cy="223.9" rx="5.0" ry="5.1"/><ellipse cx="122.5" cy="286.9" rx="5.0" ry="5.1"/><ellipse cx="109.6" cy="266.9" rx="5.0" ry="5.1"/><ellipse cx="112.5" cy="221.5" rx="5.0" ry="5.1"/><ellipse cx="124.2" cy="259.9" rx="5.0" ry="5.1"/><ellipse cx="128.9" cy="262.8" rx="5.0" ry="5.1"/><ellipse cx="129.4" cy="239.3" rx="5.0" ry="5.1"/></g><path d="M213.5 178.0 L222.0 174.0 L235.0 173.0 L248.0 175.0 L255.0 180.0 L257.0 188.0 L257.0 200.0 L256.0 215.0 L252.0 229.0 L250.0 240.0 L250.0 250.0 L249.0 260.0 L249.0 272.0 L248.0 284.0 L245.0 292.0 L210.0 294.0 L209.5 232.0 L213.5 224.0Z" fill="#fb8072"/><g fill="#fb8072" fill-opacity="0.5" stroke="#fb8072" stroke-opacity="0.5" stroke-width="1.7"><ellipse cx="271.4" cy="49.3" rx="5.0" ry="5.1"/><ellipse cx="235.2" cy="58.7" rx="5.0" ry="5.1"/><ellipse cx="267.4" cy="57.6" rx="5.0" ry="5.1"/><ellipse cx="273.9" cy="61.1" rx="5.0" ry="5.1"/><ellipse cx="251.8" cy="66.0" rx="5.0" ry="5.1"/><ellipse cx="261.6" cy="67.5" rx="5.0" ry="5.1"/><ellipse cx="266.9" cy="66.6" rx="5.0" ry="5.1"/><ellipse cx="256.7" cy="73.2" rx="5.0" ry="5.1"/><ellipse cx="275.3" cy="75.8" rx="5.0" ry="5.1"/><ellipse cx="272.9" cy="83.0" rx="5.0" ry="5.1"/><ellipse cx="256.1" cy="83.0" rx="5.0" ry="5.1"/><ellipse cx="236.1" cy="85.0" rx="5.0" ry="5.1"/><ellipse cx="231.6" cy="90.0" rx="5.0" ry="5.1"/><ellipse cx="242.0" cy="92.4" rx="5.0" ry="5.1"/><ellipse cx="255.3" cy="88.9" rx="5.0" ry="5.1"/><ellipse cx="255.3" cy="92.8" rx="5.0" ry="5.1"/><ellipse cx="232.8" cy="99.8" rx="5.0" ry="5.1"/><ellipse cx="253.8" cy="100.6" rx="5.0" ry="5.1"/><ellipse cx="257.7" cy="101.8" rx="5.0" ry="5.1"/><ellipse cx="244.6" cy="106.1" rx="5.0" ry="5.1"/><ellipse cx="243.0" cy="110.4" rx="5.0" ry="5.1"/><ellipse cx="267.8" cy="111.5" rx="5.0" ry="5.1"/><ellipse cx="273.3" cy="110.0" rx="5.0" ry="5.1"/><ellipse cx="228.3" cy="113.9" rx="5.0" ry="5.1"/><ellipse cx="252.8" cy="113.5" rx="5.0" ry="5.1"/><ellipse cx="235.2" cy="115.9" rx="5.0" ry="5.1"/><ellipse cx="239.1" cy="118.8" rx="5.0" ry="5.1"/><ellipse cx="258.0" cy="119.4" rx="5.0" ry="5.1"/><ellipse cx="271.4" cy="120.7" rx="5.0" ry="5.1"/><ellipse cx="248.9" cy="121.7" rx="5.0" ry="5.1"/><ellipse cx="240.1" cy="125.6" rx="5.0" ry="5.1"/><ellipse cx="250.4" cy="126.6" rx="5.0" ry="5.1"/><ellipse cx="244.9" cy="126.6" rx="5.0" ry="5.1"/><ellipse cx="225.4" cy="128.2" rx="5.0" ry="5.1"/><ellipse cx="270.4" cy="129.2" rx="5.0" ry="5.1"/><ellipse cx="259.0" cy="131.9" rx="5.0" ry="5.1"/><ellipse cx="230.3" cy="135.4" rx="5.0" ry="5.1"/><ellipse cx="258.6" cy="135.4" rx="5.0" ry="5.1"/><ellipse cx="229.3" cy="141.3" rx="5.0" ry="5.1"/><ellipse cx="243.0" cy="137.4" rx="5.0" ry="5.1"/><ellipse cx="242.0" cy="142.3" rx="5.0" ry="5.1"/><ellipse cx="256.7" cy="143.2" rx="5.0" ry="5.1"/><ellipse cx="223.4" cy="150.1" rx="5.0" ry="5.1"/><ellipse cx="217.6" cy="156.0" rx="5.0" ry="5.1"/><ellipse cx="250.8" cy="155.0" rx="5.0" ry="5.1"/><ellipse cx="266.5" cy="154.0" rx="5.0" ry="5.1"/><ellipse cx="275.3" cy="156.9" rx="5.0" ry="5.1"/><ellipse cx="285.0" cy="159.9" rx="5.0" ry="5.1"/><ellipse cx="237.0" cy="149.0" rx="5.0" ry="5.1"/><ellipse cx="233.2" cy="157.0" rx="5.0" ry="5.1"/><ellipse cx="245.2" cy="138.8" rx="5.0" ry="5.1"/><ellipse cx="227.9" cy="159.6" rx="5.0" ry="5.1"/><ellipse cx="285.4" cy="162.4" rx="5.0" ry="5.1"/><ellipse cx="288.9" cy="173.5" rx="5.0" ry="5.1"/><ellipse cx="273.0" cy="166.6" rx="5.0" ry="5.1"/><ellipse cx="277.1" cy="177.7" rx="5.0" ry="5.1"/><ellipse cx="275.7" cy="190.2" rx="5.0" ry="5.1"/><ellipse cx="263.9" cy="221.2" rx="5.0" ry="5.1"/><ellipse cx="271.2" cy="240.5" rx="5.0" ry="5.1"/><ellipse cx="264.5" cy="272.4" rx="5.0" ry="5.1"/><ellipse cx="217.8" cy="180.1" rx="5.0" ry="5.1"/><ellipse cx="219.5" cy="177.8" rx="5.0" ry="5.1"/><ellipse cx="221.6" cy="174.1" rx="5.0" ry="5.1"/><ellipse cx="225.0" cy="176.3" rx="5.0" ry="5.1"/><ellipse cx="223.3" cy="174.3" rx="5.0" ry="5.1"/><ellipse cx="231.7" cy="177.6" rx="5.0" ry="5.1"/><ellipse cx="232.0" cy="176.8" rx="5.0" ry="5.1"/><ellipse cx="237.5" cy="178.1" rx="5.0" ry="5.1"/><ellipse cx="238.2" cy="179.2" rx="5.0" ry="5.1"/><ellipse cx="246.5" cy="175.4" rx="5.0" ry="5.1"/><ellipse cx="242.8" cy="175.2" rx="5.0" ry="5.1"/><ellipse cx="250.9" cy="180.5" rx="5.0" ry="5.1"/><ellipse cx="253.3" cy="181.0" rx="5.0" ry="5.1"/><ellipse cx="242.7" cy="290.0" rx="5.0" ry="5.1"/><ellipse cx="240.2" cy="288.7" rx="5.0" ry="5.1"/><ellipse cx="237.3" cy="288.2" rx="5.0" ry="5.1"/><ellipse cx="232.4" cy="288.7" rx="5.0" ry="5.1"/><ellipse cx="229.0" cy="291.3" rx="5.0" ry="5.1"/><ellipse cx="224.9" cy="289.4" rx="5.0" ry="5.1"/><ellipse cx="225.5" cy="289.3" rx="5.0" ry="5.1"/><ellipse cx="220.5" cy="289.0" rx="5.0" ry="5.1"/><ellipse cx="214.8" cy="291.8" rx="5.0" ry="5.1"/><ellipse cx="213.4" cy="289.2" rx="5.0" ry="5.1"/><ellipse cx="212.7" cy="288.6" rx="5.0" ry="5.1"/><ellipse cx="235.6" cy="163.2" rx="5.0" ry="5.1"/><ellipse cx="249.1" cy="150.6" rx="5.0" ry="5.1"/><ellipse cx="235.8" cy="157.2" rx="5.0" ry="5.1"/><ellipse cx="250.6" cy="153.7" rx="5.0" ry="5.1"/><ellipse cx="223.4" cy="171.7" rx="5.0" ry="5.1"/><ellipse cx="235.9" cy="147.5" rx="5.0" ry="5.1"/><ellipse cx="242.0" cy="146.3" rx="5.0" ry="5.1"/><ellipse cx="248.7" cy="171.6" rx="5.0" ry="5.1"/><ellipse cx="248.6" cy="168.7" rx="5.0" ry="5.1"/><ellipse cx="229.6" cy="159.5" rx="5.0" ry="5.1"/><ellipse cx="231.4" cy="179.5" rx="5.0" ry="5.1"/><ellipse cx="217.8" cy="179.4" rx="5.0" ry="5.1"/><ellipse cx="215.1" cy="151.5" rx="5.0" ry="5.1"/><ellipse cx="225.6" cy="179.9" rx="5.0" ry="5.1"/><ellipse cx="236.1" cy="158.6" rx="5.0" ry="5.1"/><ellipse cx="252.9" cy="152.6" rx="5.0" ry="5.1"/><ellipse cx="234.3" cy="164.8" rx="5.0" ry="5.1"/><ellipse cx="247.2" cy="173.9" rx="5.0" ry="5.1"/><ellipse cx="242.4" cy="157.3" rx="5.0" ry="5.1"/><ellipse cx="228.4" cy="149.4" rx="5.0" ry="5.1"/><ellipse cx="251.1" cy="170.1" rx="5.0" ry="5.1"/><ellipse cx="246.6" cy="150.0" rx="5.0" ry="5.1"/><ellipse cx="233.3" cy="174.7" rx="5.0" ry="5.1"/><ellipse cx="239.5" cy="148.2" rx="5.0" ry="5.1"/><ellipse cx="234.3" cy="179.3" rx="5.0" ry="5.1"/><ellipse cx="224.5" cy="150.9" rx="5.0" ry="5.1"/><ellipse cx="227.3" cy="171.8" rx="5.0" ry="5.1"/><ellipse cx="251.1" cy="149.3" rx="5.0" ry="5.1"/><ellipse cx="220.9" cy="153.2" rx="5.0" ry="5.1"/><ellipse cx="228.4" cy="164.4" rx="5.0" ry="5.1"/><ellipse cx="221.1" cy="156.5" rx="5.0" ry="5.1"/><ellipse cx="222.3" cy="183.0" rx="5.0" ry="5.1"/><ellipse cx="246.1" cy="147.2" rx="5.0" ry="5.1"/><ellipse cx="249.0" cy="173.1" rx="5.0" ry="5.1"/><ellipse cx="233.1" cy="151.0" rx="5.0" ry="5.1"/><ellipse cx="242.1" cy="147.4" rx="5.0" ry="5.1"/><ellipse cx="223.1" cy="158.9" rx="5.0" ry="5.1"/><ellipse cx="215.5" cy="159.4" rx="5.0" ry="5.1"/><ellipse cx="248.8" cy="171.4" rx="5.0" ry="5.1"/><ellipse cx="236.0" cy="168.9" rx="5.0" ry="5.1"/><ellipse cx="234.4" cy="148.8" rx="5.0" ry="5.1"/><ellipse cx="240.6" cy="159.6" rx="5.0" ry="5.1"/><ellipse cx="246.6" cy="180.2" rx="5.0" ry="5.1"/><ellipse cx="232.9" cy="166.5" rx="5.0" ry="5.1"/><ellipse cx="247.0" cy="160.3" rx="5.0" ry="5.1"/><ellipse cx="227.4" cy="154.7" rx="5.0" ry="5.1"/><ellipse cx="260.0" cy="157.6" rx="5.0" ry="5.1"/><ellipse cx="251.0" cy="161.9" rx="5.0" ry="5.1"/><ellipse cx="250.0" cy="150.3" rx="5.0" ry="5.1"/><ellipse cx="238.7" cy="132.2" rx="5.0" ry="5.1"/><ellipse cx="247.4" cy="120.4" rx="5.0" ry="5.1"/><ellipse cx="237.0" cy="158.0" rx="5.0" ry="5.1"/><ellipse cx="251.7" cy="149.6" rx="5.0" ry="5.1"/><ellipse cx="228.5" cy="138.3" rx="5.0" ry="5.1"/><ellipse cx="238.8" cy="149.2" rx="5.0" ry="5.1"/><ellipse cx="236.5" cy="152.1" rx="5.0" ry="5.1"/><ellipse cx="248.7" cy="157.8" rx="5.0" ry="5.1"/><ellipse cx="235.4" cy="141.9" rx="5.0" ry="5.1"/><ellipse cx="243.2" cy="123.8" rx="5.0" ry="5.1"/><ellipse cx="255.1" cy="166.7" rx="5.0" ry="5.1"/><ellipse cx="242.0" cy="120.6" rx="5.0" ry="5.1"/><ellipse cx="244.7" cy="144.8" rx="5.0" ry="5.1"/><ellipse cx="251.9" cy="143.2" rx="5.0" ry="5.1"/><ellipse cx="248.0" cy="160.6" rx="5.0" ry="5.1"/><ellipse cx="242.1" cy="137.6" rx="5.0" ry="5.1"/><ellipse cx="250.2" cy="136.6" rx="5.0" ry="5.1"/><ellipse cx="236.9" cy="138.1" rx="5.0" ry="5.1"/><ellipse cx="250.9" cy="134.4" rx="5.0" ry="5.1"/><ellipse cx="229.3" cy="127.3" rx="5.0" ry="5.1"/><ellipse cx="253.1" cy="166.7" rx="5.0" ry="5.1"/><ellipse cx="242.4" cy="127.0" rx="5.0" ry="5.1"/><ellipse cx="256.1" cy="136.6" rx="5.0" ry="5.1"/><ellipse cx="226.6" cy="122.1" rx="5.0" ry="5.1"/><ellipse cx="254.8" cy="159.5" rx="5.0" ry="5.1"/><ellipse cx="247.7" cy="140.8" rx="5.0" ry="5.1"/><ellipse cx="244.1" cy="127.4" rx="5.0" ry="5.1"/><ellipse cx="247.9" cy="160.0" rx="5.0" ry="5.1"/><ellipse cx="256.8" cy="140.7" rx="5.0" ry="5.1"/><ellipse cx="230.7" cy="145.2" rx="5.0" ry="5.1"/><ellipse cx="222.3" cy="160.9" rx="5.0" ry="5.1"/><ellipse cx="233.7" cy="161.8" rx="5.0" ry="5.1"/><ellipse cx="229.4" cy="135.7" rx="5.0" ry="5.1"/><ellipse cx="228.7" cy="138.4" rx="5.0" ry="5.1"/><ellipse cx="252.1" cy="130.5" rx="5.0" ry="5.1"/><ellipse cx="228.2" cy="131.6" rx="5.0" ry="5.1"/><ellipse cx="240.0" cy="138.6" rx="5.0" ry="5.1"/><ellipse cx="247.9" cy="151.3" rx="5.0" ry="5.1"/><ellipse cx="234.1" cy="166.1" rx="5.0" ry="5.1"/><ellipse cx="257.4" cy="164.8" rx="5.0" ry="5.1"/><ellipse cx="257.6" cy="149.8" rx="5.0" ry="5.1"/><ellipse cx="261.0" cy="157.6" rx="5.0" ry="5.1"/><ellipse cx="257.1" cy="167.5" rx="5.0" ry="5.1"/><ellipse cx="279.9" cy="176.0" rx="5.0" ry="5.1"/><ellipse cx="280.5" cy="162.6" rx="5.0" ry="5.1"/><ellipse cx="284.1" cy="195.6" rx="5.0" ry="5.1"/><ellipse cx="280.1" cy="200.1" rx="5.0" ry="5.1"/><ellipse cx="282.2" cy="164.8" rx="5.0" ry="5.1"/><ellipse cx="276.9" cy="189.8" rx="5.0" ry="5.1"/><ellipse cx="278.7" cy="182.9" rx="5.0" ry="5.1"/><ellipse cx="283.8" cy="191.6" rx="5.0" ry="5.1"/><ellipse cx="261.5" cy="167.6" rx="5.0" ry="5.1"/><ellipse cx="257.0" cy="187.0" rx="5.0" ry="5.1"/><ellipse cx="254.1" cy="185.0" rx="5.0" ry="5.1"/><ellipse cx="257.2" cy="186.9" rx="5.0" ry="5.1"/><ellipse cx="269.9" cy="190.5" rx="5.0" ry="5.1"/><ellipse cx="282.3" cy="185.1" rx="5.0" ry="5.1"/><ellipse cx="272.3" cy="199.9" rx="5.0" ry="5.1"/><ellipse cx="282.3" cy="178.1" rx="5.0" ry="5.1"/><ellipse cx="267.1" cy="222.0" rx="5.0" ry="5.1"/><ellipse cx="274.9" cy="152.1" rx="5.0" ry="5.1"/><ellipse cx="273.9" cy="201.2" rx="5.0" ry="5.1"/><ellipse cx="285.5" cy="174.8" rx="5.0" ry="5.1"/><ellipse cx="287.3" cy="188.3" rx="5.0" ry="5.1"/><ellipse cx="269.4" cy="217.3" rx="5.0" ry="5.1"/><ellipse cx="274.5" cy="175.4" rx="5.0" ry="5.1"/><ellipse cx="283.0" cy="177.5" rx="5.0" ry="5.1"/><ellipse cx="269.1" cy="189.4" rx="5.0" ry="5.1"/><ellipse cx="279.7" cy="165.8" rx="5.0" ry="5.1"/><ellipse cx="267.7" cy="181.7" rx="5.0" ry="5.1"/><ellipse cx="271.9" cy="212.0" rx="5.0" ry="5.1"/><ellipse cx="266.5" cy="187.8" rx="5.0" ry="5.1"/><ellipse cx="261.8" cy="188.0" rx="5.0" ry="5.1"/><ellipse cx="280.5" cy="174.8" rx="5.0" ry="5.1"/><ellipse cx="263.4" cy="172.4" rx="5.0" ry="5.1"/><ellipse cx="273.1" cy="197.6" rx="5.0" ry="5.1"/><ellipse cx="271.6" cy="153.7" rx="5.0" ry="5.1"/><ellipse cx="273.9" cy="199.4" rx="5.0" ry="5.1"/><ellipse cx="274.0" cy="196.3" rx="5.0" ry="5.1"/><ellipse cx="253.7" cy="251.4" rx="5.0" ry="5.1"/><ellipse cx="255.3" cy="206.8" rx="5.0" ry="5.1"/><ellipse cx="261.2" cy="208.9" rx="5.0" ry="5.1"/><ellipse cx="261.5" cy="248.3" rx="5.0" ry="5.1"/><ellipse cx="279.6" cy="176.7" rx="5.0" ry="5.1"/><ellipse cx="266.4" cy="174.8" rx="5.0" ry="5.1"/><ellipse cx="250.3" cy="268.9" rx="5.0" ry="5.1"/><ellipse cx="262.1" cy="171.7" rx="5.0" ry="5.1"/><ellipse cx="259.9" cy="242.2" rx="5.0" ry="5.1"/><ellipse cx="263.1" cy="220.3" rx="5.0" ry="5.1"/><ellipse cx="249.7" cy="248.6" rx="5.0" ry="5.1"/><ellipse cx="253.6" cy="188.5" rx="5.0" ry="5.1"/><ellipse cx="270.6" cy="184.8" rx="5.0" ry="5.1"/><ellipse cx="277.3" cy="185.7" rx="5.0" ry="5.1"/><ellipse cx="254.7" cy="259.5" rx="5.0" ry="5.1"/><ellipse cx="252.7" cy="176.1" rx="5.0" ry="5.1"/><ellipse cx="279.6" cy="201.0" rx="5.0" ry="5.1"/><ellipse cx="272.3" cy="190.3" rx="5.0" ry="5.1"/><ellipse cx="266.7" cy="223.5" rx="5.0" ry="5.1"/><ellipse cx="270.4" cy="187.7" rx="5.0" ry="5.1"/><ellipse cx="274.7" cy="214.3" rx="5.0" ry="5.1"/><ellipse cx="261.0" cy="217.1" rx="5.0" ry="5.1"/><ellipse cx="256.5" cy="177.4" rx="5.0" ry="5.1"/><ellipse cx="275.8" cy="210.5" rx="5.0" ry="5.1"/><ellipse cx="257.1" cy="222.3" rx="5.0" ry="5.1"/><ellipse cx="255.5" cy="221.5" rx="5.0" ry="5.1"/><ellipse cx="277.9" cy="175.2" rx="5.0" ry="5.1"/><ellipse cx="255.9" cy="273.8" rx="5.0" ry="5.1"/><ellipse cx="274.7" cy="194.5" rx="5.0" ry="5.1"/><ellipse cx="254.4" cy="244.0" rx="5.0" ry="5.1"/><ellipse cx="253.4" cy="201.1" rx="5.0" ry="5.1"/><ellipse cx="262.5" cy="180.7" rx="5.0" ry="5.1"/><ellipse cx="254.4" cy="240.7" rx="5.0" ry="5.1"/><ellipse cx="264.8" cy="228.1" rx="5.0" ry="5.1"/><ellipse cx="267.2" cy="193.1" rx="5.0" ry="5.1"/><ellipse cx="252.9" cy="192.0" rx="5.0" ry="5.1"/><ellipse cx="271.2" cy="214.3" rx="5.0" ry="5.1"/><ellipse cx="266.3" cy="219.1" rx="5.0" ry="5.1"/><ellipse cx="264.6" cy="188.2" rx="5.0" ry="5.1"/><ellipse cx="247.6" cy="291.7" rx="5.0" ry="5.1"/><ellipse cx="259.5" cy="182.9" rx="5.0" ry="5.1"/><ellipse cx="251.6" cy="242.9" rx="5.0" ry="5.1"/><ellipse cx="258.4" cy="233.4" rx="5.0" ry="5.1"/><ellipse cx="263.5" cy="239.2" rx="5.0" ry="5.1"/><ellipse cx="255.4" cy="265.1" rx="5.0" ry="5.1"/><ellipse cx="280.7" cy="201.0" rx="5.0" ry="5.1"/><ellipse cx="252.5" cy="180.2" rx="5.0" ry="5.1"/><ellipse cx="260.3" cy="184.6" rx="5.0" ry="5.1"/><ellipse cx="280.5" cy="201.4" rx="5.0" ry="5.1"/><ellipse cx="260.2" cy="224.7" rx="5.0" ry="5.1"/><ellipse cx="251.8" cy="287.8" rx="5.0" ry="5.1"/><ellipse cx="251.2" cy="262.1" rx="5.0" ry="5.1"/><ellipse cx="256.8" cy="242.2" rx="5.0" ry="5.1"/><ellipse cx="273.3" cy="182.9" rx="5.0" ry="5.1"/><ellipse cx="257.7" cy="201.4" rx="5.0" ry="5.1"/><ellipse cx="250.5" cy="228.7" rx="5.0" ry="5.1"/><ellipse cx="252.1" cy="199.1" rx="5.0" ry="5.1"/><ellipse cx="251.2" cy="252.7" rx="5.0" ry="5.1"/><ellipse cx="279.4" cy="196.9" rx="5.0" ry="5.1"/><ellipse cx="278.0" cy="187.1" rx="5.0" ry="5.1"/><ellipse cx="262.1" cy="181.8" rx="5.0" ry="5.1"/><ellipse cx="268.6" cy="225.2" rx="5.0" ry="5.1"/><ellipse cx="258.2" cy="270.4" rx="5.0" ry="5.1"/><ellipse cx="251.1" cy="197.0" rx="5.0" ry="5.1"/><ellipse cx="265.9" cy="187.7" rx="5.0" ry="5.1"/><ellipse cx="277.3" cy="202.5" rx="5.0" ry="5.1"/><ellipse cx="260.8" cy="189.0" rx="5.0" ry="5.1"/><ellipse cx="255.8" cy="272.4" rx="5.0" ry="5.1"/><ellipse cx="258.0" cy="190.5" rx="5.0" ry="5.1"/><ellipse cx="263.7" cy="208.8" rx="5.0" ry="5.1"/><ellipse cx="278.5" cy="183.9" rx="5.0" ry="5.1"/><ellipse cx="253.6" cy="228.2" rx="5.0" ry="5.1"/><ellipse cx="256.3" cy="201.5" rx="5.0" ry="5.1"/><ellipse cx="253.3" cy="214.4" rx="5.0" ry="5.1"/><ellipse cx="279.3" cy="181.9" rx="5.0" ry="5.1"/></g><g clip-path="url(#ca)"><path d="M184.80 304.2V22.5" stroke="#5f5f5f" stroke-width="1.6" stroke-dasharray="13.4 6.1" fill="none"/><path d="M213.90 304.2V22.5" stroke="#5f5f5f" stroke-width="1.6" stroke-dasharray="13.4 6.1" fill="none"/><path d="M66.7 290.29H332.1" stroke="#5f5f5f" stroke-width="1.6" stroke-dasharray="12.8 5.8" fill="none"/></g><rect x="66.7" y="22.5" width="265.4" height="281.7" fill="none" stroke="#000" stroke-width="2" stroke-linejoin="round"/><line x1="60.1" y1="291.60" x2="66.7" y2="291.60" stroke="#000" stroke-width="1.8"/><text transform="translate(54.10,297.50) scale(1,1.04)" text-anchor="end" font-size="15">0</text><line x1="60.1" y1="241.14" x2="66.7" y2="241.14" stroke="#000" stroke-width="1.8"/><text transform="translate(54.10,247.04) scale(1,1.04)" text-anchor="end" font-size="15">50</text><line x1="60.1" y1="190.68" x2="66.7" y2="190.68" stroke="#000" stroke-width="1.8"/><text transform="translate(54.10,196.58) scale(1,1.04)" text-anchor="end" font-size="15">100</text><line x1="60.1" y1="140.22" x2="66.7" y2="140.22" stroke="#000" stroke-width="1.8"/><text transform="translate(54.10,146.12) scale(1,1.04)" text-anchor="end" font-size="15">150</text><line x1="60.1" y1="89.76" x2="66.7" y2="89.76" stroke="#000" stroke-width="1.8"/><text transform="translate(54.10,95.66) scale(1,1.04)" text-anchor="end" font-size="15">200</text><line x1="60.1" y1="39.30" x2="66.7" y2="39.30" stroke="#000" stroke-width="1.8"/><text transform="translate(54.10,45.20) scale(1,1.04)" text-anchor="end" font-size="15">250</text><line x1="126.60" y1="304.2" x2="126.60" y2="311.2" stroke="#000" stroke-width="1.8"/><text transform="translate(126.60,329.00) scale(1,1.04)" text-anchor="middle" font-size="15">-5</text><line x1="199.35" y1="304.2" x2="199.35" y2="311.2" stroke="#000" stroke-width="1.8"/><text transform="translate(199.35,329.00) scale(1,1.04)" text-anchor="middle" font-size="15">0</text><line x1="272.10" y1="304.2" x2="272.10" y2="311.2" stroke="#000" stroke-width="1.8"/><text transform="translate(272.10,329.00) scale(1,1.04)" text-anchor="middle" font-size="15">5</text>
<clipPath id="cb"><rect x="408.1" y="22.5" width="274.1" height="281.7"/></clipPath><g clip-path="url(#cb)"><line x1="443.70" y1="22.5" x2="443.70" y2="304.2" stroke="#e9e9e9" stroke-width="1.5"/><line x1="511.50" y1="22.5" x2="511.50" y2="304.2" stroke="#e9e9e9" stroke-width="1.5"/><line x1="579.30" y1="22.5" x2="579.30" y2="304.2" stroke="#e9e9e9" stroke-width="1.5"/><line x1="647.10" y1="22.5" x2="647.10" y2="304.2" stroke="#e9e9e9" stroke-width="1.5"/><line x1="408.1" y1="256.53" x2="682.2" y2="256.53" stroke="#e9e9e9" stroke-width="1.5"/><line x1="408.1" y1="186.40" x2="682.2" y2="186.40" stroke="#e9e9e9" stroke-width="1.5"/><line x1="408.1" y1="116.27" x2="682.2" y2="116.27" stroke="#e9e9e9" stroke-width="1.5"/><line x1="408.1" y1="46.13" x2="682.2" y2="46.13" stroke="#e9e9e9" stroke-width="1.5"/><line x1="409.80" y1="22.5" x2="409.80" y2="304.2" stroke="#e5e5e5" stroke-width="2.2"/><line x1="477.60" y1="22.5" x2="477.60" y2="304.2" stroke="#e5e5e5" stroke-width="2.2"/><line x1="545.40" y1="22.5" x2="545.40" y2="304.2" stroke="#e5e5e5" stroke-width="2.2"/><line x1="613.20" y1="22.5" x2="613.20" y2="304.2" stroke="#e5e5e5" stroke-width="2.2"/><line x1="681.00" y1="22.5" x2="681.00" y2="304.2" stroke="#e5e5e5" stroke-width="2.2"/><line x1="408.1" y1="291.60" x2="682.2" y2="291.60" stroke="#e5e5e5" stroke-width="2.2"/><line x1="408.1" y1="221.47" x2="682.2" y2="221.47" stroke="#e5e5e5" stroke-width="2.2"/><line x1="408.1" y1="151.33" x2="682.2" y2="151.33" stroke="#e5e5e5" stroke-width="2.2"/><line x1="408.1" y1="81.20" x2="682.2" y2="81.20" stroke="#e5e5e5" stroke-width="2.2"/></g><path d="M482.0 152.0 L495.0 147.0 L510.0 142.0 L520.0 137.0 L529.5 138.0 L529.5 284.0 L520.0 284.0 L513.0 280.0 L506.0 272.0 L500.0 262.0 L493.0 248.0 L486.0 232.0 L481.0 215.0 L479.5 200.0 L480.0 175.0Z" fill="#80b1d3"/><g fill="#80b1d3" fill-opacity="0.5" stroke="#80b1d3" stroke-opacity="0.5" stroke-width="1.7"><ellipse cx="476.0" cy="35.0" rx="5.0" ry="5.1"/><ellipse cx="481.0" cy="34.4" rx="5.0" ry="5.1"/><ellipse cx="486.0" cy="35.0" rx="5.0" ry="5.1"/><ellipse cx="483.0" cy="36.0" rx="5.0" ry="5.1"/><ellipse cx="471.6" cy="41.6" rx="5.0" ry="5.1"/><ellipse cx="480.0" cy="42.0" rx="5.0" ry="5.1"/><ellipse cx="488.0" cy="43.0" rx="5.0" ry="5.1"/><ellipse cx="461.0" cy="49.6" rx="5.0" ry="5.1"/><ellipse cx="469.0" cy="55.6" rx="5.0" ry="5.1"/><ellipse cx="477.0" cy="54.0" rx="5.0" ry="5.1"/><ellipse cx="485.0" cy="55.0" rx="5.0" ry="5.1"/><ellipse cx="468.0" cy="62.0" rx="5.0" ry="5.1"/><ellipse cx="465.0" cy="68.0" rx="5.0" ry="5.1"/><ellipse cx="485.6" cy="65.0" rx="5.0" ry="5.1"/><ellipse cx="485.6" cy="69.0" rx="5.0" ry="5.1"/><ellipse cx="508.0" cy="62.6" rx="5.0" ry="5.1"/><ellipse cx="444.0" cy="76.6" rx="5.0" ry="5.1"/><ellipse cx="473.0" cy="78.0" rx="5.0" ry="5.1"/><ellipse cx="460.4" cy="82.0" rx="5.0" ry="5.1"/><ellipse cx="455.6" cy="89.0" rx="5.0" ry="5.1"/><ellipse cx="464.0" cy="92.0" rx="5.0" ry="5.1"/><ellipse cx="474.0" cy="97.0" rx="5.0" ry="5.1"/><ellipse cx="458.0" cy="101.0" rx="5.0" ry="5.1"/><ellipse cx="466.0" cy="104.0" rx="5.0" ry="5.1"/><ellipse cx="479.0" cy="106.0" rx="5.0" ry="5.1"/><ellipse cx="457.0" cy="119.0" rx="5.0" ry="5.1"/><ellipse cx="441.0" cy="129.0" rx="5.0" ry="5.1"/><ellipse cx="445.0" cy="133.0" rx="5.0" ry="5.1"/><ellipse cx="449.0" cy="138.0" rx="5.0" ry="5.1"/><ellipse cx="427.6" cy="140.0" rx="5.0" ry="5.1"/><ellipse cx="441.0" cy="143.0" rx="5.0" ry="5.1"/><ellipse cx="420.4" cy="153.6" rx="5.0" ry="5.1"/><ellipse cx="445.0" cy="156.0" rx="5.0" ry="5.1"/><ellipse cx="470.0" cy="131.0" rx="5.0" ry="5.1"/><ellipse cx="522.0" cy="123.0" rx="5.0" ry="5.1"/><ellipse cx="526.0" cy="141.0" rx="5.0" ry="5.1"/><ellipse cx="450.0" cy="161.0" rx="5.0" ry="5.1"/><ellipse cx="447.0" cy="169.0" rx="5.0" ry="5.1"/><ellipse cx="440.0" cy="175.0" rx="5.0" ry="5.1"/><ellipse cx="456.0" cy="169.0" rx="5.0" ry="5.1"/><ellipse cx="450.0" cy="180.0" rx="5.0" ry="5.1"/><ellipse cx="453.0" cy="187.0" rx="5.0" ry="5.1"/><ellipse cx="444.0" cy="190.0" rx="5.0" ry="5.1"/><ellipse cx="448.0" cy="193.0" rx="5.0" ry="5.1"/><ellipse cx="436.4" cy="198.0" rx="5.0" ry="5.1"/><ellipse cx="451.0" cy="205.0" rx="5.0" ry="5.1"/><ellipse cx="451.6" cy="211.0" rx="5.0" ry="5.1"/><ellipse cx="437.6" cy="213.0" rx="5.0" ry="5.1"/><ellipse cx="467.6" cy="218.0" rx="5.0" ry="5.1"/><ellipse cx="461.0" cy="198.0" rx="5.0" ry="5.1"/><ellipse cx="481.0" cy="229.6" rx="5.0" ry="5.1"/><ellipse cx="484.0" cy="242.0" rx="5.0" ry="5.1"/><ellipse cx="494.0" cy="253.0" rx="5.0" ry="5.1"/><ellipse cx="493.6" cy="265.6" rx="5.0" ry="5.1"/><ellipse cx="500.0" cy="270.0" rx="5.0" ry="5.1"/><ellipse cx="466.0" cy="164.0" rx="5.0" ry="5.1"/><ellipse cx="472.0" cy="180.0" rx="5.0" ry="5.1"/><ellipse cx="460.0" cy="110.0" rx="5.0" ry="5.1"/><ellipse cx="463.0" cy="100.0" rx="5.0" ry="5.1"/><ellipse cx="462.0" cy="88.0" rx="5.0" ry="5.1"/><ellipse cx="470.0" cy="86.0" rx="5.0" ry="5.1"/><ellipse cx="495.0" cy="83.0" rx="5.0" ry="5.1"/><ellipse cx="478.0" cy="90.0" rx="5.0" ry="5.1"/><ellipse cx="455.0" cy="150.0" rx="5.0" ry="5.1"/><ellipse cx="460.0" cy="140.0" rx="5.0" ry="5.1"/><ellipse cx="462.0" cy="125.0" rx="5.0" ry="5.1"/><ellipse cx="458.0" cy="176.0" rx="5.0" ry="5.1"/><ellipse cx="462.0" cy="186.0" rx="5.0" ry="5.1"/><ellipse cx="466.0" cy="196.0" rx="5.0" ry="5.1"/><ellipse cx="470.0" cy="206.0" rx="5.0" ry="5.1"/><ellipse cx="464.0" cy="172.0" rx="5.0" ry="5.1"/><ellipse cx="458.0" cy="160.0" rx="5.0" ry="5.1"/><ellipse cx="476.0" cy="116.0" rx="5.0" ry="5.1"/><ellipse cx="490.0" cy="75.0" rx="5.0" ry="5.1"/><ellipse cx="531.4" cy="134.5" rx="5.0" ry="5.1"/><ellipse cx="524.0" cy="137.5" rx="5.0" ry="5.1"/><ellipse cx="525.6" cy="134.2" rx="5.0" ry="5.1"/><ellipse cx="518.6" cy="141.7" rx="5.0" ry="5.1"/><ellipse cx="514.8" cy="142.1" rx="5.0" ry="5.1"/><ellipse cx="510.4" cy="145.1" rx="5.0" ry="5.1"/><ellipse cx="509.1" cy="146.5" rx="5.0" ry="5.1"/><ellipse cx="504.4" cy="144.7" rx="5.0" ry="5.1"/><ellipse cx="505.3" cy="147.1" rx="5.0" ry="5.1"/><ellipse cx="499.8" cy="148.8" rx="5.0" ry="5.1"/><ellipse cx="498.4" cy="150.1" rx="5.0" ry="5.1"/><ellipse cx="493.4" cy="151.4" rx="5.0" ry="5.1"/><ellipse cx="492.6" cy="149.6" rx="5.0" ry="5.1"/><ellipse cx="486.2" cy="155.1" rx="5.0" ry="5.1"/><ellipse cx="483.6" cy="152.5" rx="5.0" ry="5.1"/><ellipse cx="484.8" cy="157.1" rx="5.0" ry="5.1"/><ellipse cx="483.3" cy="158.0" rx="5.0" ry="5.1"/><ellipse cx="482.9" cy="159.4" rx="5.0" ry="5.1"/><ellipse cx="481.8" cy="164.2" rx="5.0" ry="5.1"/><ellipse cx="484.0" cy="165.1" rx="5.0" ry="5.1"/><ellipse cx="485.1" cy="172.8" rx="5.0" ry="5.1"/><ellipse cx="484.4" cy="172.5" rx="5.0" ry="5.1"/><ellipse cx="481.0" cy="179.2" rx="5.0" ry="5.1"/><ellipse cx="483.1" cy="181.2" rx="5.0" ry="5.1"/><ellipse cx="483.2" cy="180.7" rx="5.0" ry="5.1"/><ellipse cx="481.6" cy="185.9" rx="5.0" ry="5.1"/><ellipse cx="481.7" cy="189.4" rx="5.0" ry="5.1"/><ellipse cx="480.9" cy="191.7" rx="5.0" ry="5.1"/><ellipse cx="480.5" cy="194.9" rx="5.0" ry="5.1"/><ellipse cx="482.8" cy="199.7" rx="5.0" ry="5.1"/><ellipse cx="484.5" cy="201.0" rx="5.0" ry="5.1"/><ellipse cx="481.2" cy="202.8" rx="5.0" ry="5.1"/><ellipse cx="482.4" cy="205.4" rx="5.0" ry="5.1"/><ellipse cx="482.0" cy="210.3" rx="5.0" ry="5.1"/><ellipse cx="482.4" cy="214.6" rx="5.0" ry="5.1"/><ellipse cx="483.2" cy="218.2" rx="5.0" ry="5.1"/><ellipse cx="485.5" cy="220.3" rx="5.0" ry="5.1"/><ellipse cx="487.0" cy="223.3" rx="5.0" ry="5.1"/><ellipse cx="489.3" cy="226.7" rx="5.0" ry="5.1"/><ellipse cx="487.5" cy="228.2" rx="5.0" ry="5.1"/><ellipse cx="491.8" cy="235.8" rx="5.0" ry="5.1"/><ellipse cx="493.1" cy="234.4" rx="5.0" ry="5.1"/><ellipse cx="494.7" cy="240.9" rx="5.0" ry="5.1"/><ellipse cx="493.1" cy="241.8" rx="5.0" ry="5.1"/><ellipse cx="495.2" cy="242.6" rx="5.0" ry="5.1"/><ellipse cx="496.5" cy="245.5" rx="5.0" ry="5.1"/><ellipse cx="499.7" cy="251.1" rx="5.0" ry="5.1"/><ellipse cx="500.6" cy="256.3" rx="5.0" ry="5.1"/><ellipse cx="503.1" cy="255.2" rx="5.0" ry="5.1"/><ellipse cx="501.2" cy="260.4" rx="5.0" ry="5.1"/><ellipse cx="503.5" cy="263.3" rx="5.0" ry="5.1"/><ellipse cx="504.8" cy="265.9" rx="5.0" ry="5.1"/><ellipse cx="509.8" cy="267.4" rx="5.0" ry="5.1"/><ellipse cx="509.8" cy="268.9" rx="5.0" ry="5.1"/><ellipse cx="514.3" cy="274.2" rx="5.0" ry="5.1"/><ellipse cx="513.5" cy="276.1" rx="5.0" ry="5.1"/><ellipse cx="513.3" cy="275.7" rx="5.0" ry="5.1"/><ellipse cx="518.7" cy="278.8" rx="5.0" ry="5.1"/><ellipse cx="493.4" cy="87.2" rx="5.0" ry="5.1"/><ellipse cx="507.7" cy="148.9" rx="5.0" ry="5.1"/><ellipse cx="510.7" cy="126.8" rx="5.0" ry="5.1"/><ellipse cx="512.6" cy="96.5" rx="5.0" ry="5.1"/><ellipse cx="515.4" cy="117.8" rx="5.0" ry="5.1"/><ellipse cx="507.8" cy="130.2" rx="5.0" ry="5.1"/><ellipse cx="504.0" cy="105.5" rx="5.0" ry="5.1"/><ellipse cx="493.4" cy="98.2" rx="5.0" ry="5.1"/><ellipse cx="506.1" cy="111.4" rx="5.0" ry="5.1"/><ellipse cx="498.6" cy="150.7" rx="5.0" ry="5.1"/><ellipse cx="493.2" cy="125.6" rx="5.0" ry="5.1"/><ellipse cx="505.1" cy="103.4" rx="5.0" ry="5.1"/><ellipse cx="485.1" cy="151.4" rx="5.0" ry="5.1"/><ellipse cx="502.7" cy="85.1" rx="5.0" ry="5.1"/><ellipse cx="500.2" cy="116.1" rx="5.0" ry="5.1"/><ellipse cx="492.6" cy="158.7" rx="5.0" ry="5.1"/><ellipse cx="497.8" cy="108.9" rx="5.0" ry="5.1"/><ellipse cx="513.7" cy="130.5" rx="5.0" ry="5.1"/><ellipse cx="521.9" cy="147.3" rx="5.0" ry="5.1"/><ellipse cx="506.3" cy="140.6" rx="5.0" ry="5.1"/><ellipse cx="516.9" cy="142.3" rx="5.0" ry="5.1"/><ellipse cx="504.3" cy="144.4" rx="5.0" ry="5.1"/><ellipse cx="515.3" cy="155.0" rx="5.0" ry="5.1"/><ellipse cx="488.0" cy="151.4" rx="5.0" ry="5.1"/><ellipse cx="482.2" cy="142.8" rx="5.0" ry="5.1"/><ellipse cx="509.5" cy="120.8" rx="5.0" ry="5.1"/><ellipse cx="501.6" cy="144.3" rx="5.0" ry="5.1"/><ellipse cx="523.0" cy="129.8" rx="5.0" ry="5.1"/><ellipse cx="499.8" cy="117.1" rx="5.0" ry="5.1"/><ellipse cx="503.5" cy="139.3" rx="5.0" ry="5.1"/><ellipse cx="495.8" cy="112.0" rx="5.0" ry="5.1"/><ellipse cx="508.1" cy="111.5" rx="5.0" ry="5.1"/><ellipse cx="497.1" cy="144.5" rx="5.0" ry="5.1"/><ellipse cx="521.9" cy="121.0" rx="5.0" ry="5.1"/><ellipse cx="502.9" cy="95.1" rx="5.0" ry="5.1"/><ellipse cx="496.3" cy="91.9" rx="5.0" ry="5.1"/><ellipse cx="509.0" cy="127.7" rx="5.0" ry="5.1"/><ellipse cx="486.1" cy="155.5" rx="5.0" ry="5.1"/><ellipse cx="497.2" cy="149.2" rx="5.0" ry="5.1"/><ellipse cx="521.4" cy="158.6" rx="5.0" ry="5.1"/><ellipse cx="491.6" cy="115.0" rx="5.0" ry="5.1"/><ellipse cx="484.2" cy="126.3" rx="5.0" ry="5.1"/><ellipse cx="505.4" cy="155.5" rx="5.0" ry="5.1"/><ellipse cx="518.4" cy="124.2" rx="5.0" ry="5.1"/><ellipse cx="506.3" cy="136.2" rx="5.0" ry="5.1"/><ellipse cx="500.3" cy="109.3" rx="5.0" ry="5.1"/><ellipse cx="510.0" cy="108.8" rx="5.0" ry="5.1"/><ellipse cx="526.6" cy="135.5" rx="5.0" ry="5.1"/><ellipse cx="506.7" cy="88.1" rx="5.0" ry="5.1"/><ellipse cx="499.6" cy="112.9" rx="5.0" ry="5.1"/><ellipse cx="508.4" cy="127.1" rx="5.0" ry="5.1"/><ellipse cx="523.4" cy="159.1" rx="5.0" ry="5.1"/><ellipse cx="504.9" cy="116.1" rx="5.0" ry="5.1"/><ellipse cx="498.1" cy="123.5" rx="5.0" ry="5.1"/><ellipse cx="496.9" cy="160.2" rx="5.0" ry="5.1"/><ellipse cx="520.8" cy="122.0" rx="5.0" ry="5.1"/><ellipse cx="487.2" cy="153.3" rx="5.0" ry="5.1"/><ellipse cx="514.4" cy="147.3" rx="5.0" ry="5.1"/><ellipse cx="528.5" cy="152.8" rx="5.0" ry="5.1"/><ellipse cx="501.8" cy="92.8" rx="5.0" ry="5.1"/><ellipse cx="495.6" cy="122.0" rx="5.0" ry="5.1"/><ellipse cx="505.7" cy="95.4" rx="5.0" ry="5.1"/><ellipse cx="490.6" cy="131.7" rx="5.0" ry="5.1"/><ellipse cx="510.3" cy="109.0" rx="5.0" ry="5.1"/><ellipse cx="484.0" cy="113.7" rx="5.0" ry="5.1"/><ellipse cx="519.0" cy="105.2" rx="5.0" ry="5.1"/><ellipse cx="496.3" cy="149.1" rx="5.0" ry="5.1"/><ellipse cx="509.6" cy="134.8" rx="5.0" ry="5.1"/><ellipse cx="491.2" cy="120.8" rx="5.0" ry="5.1"/><ellipse cx="508.0" cy="101.8" rx="5.0" ry="5.1"/><ellipse cx="512.4" cy="123.6" rx="5.0" ry="5.1"/><ellipse cx="501.3" cy="90.0" rx="5.0" ry="5.1"/><ellipse cx="489.4" cy="142.3" rx="5.0" ry="5.1"/><ellipse cx="487.0" cy="88.2" rx="5.0" ry="5.1"/><ellipse cx="490.0" cy="122.8" rx="5.0" ry="5.1"/><ellipse cx="520.7" cy="130.3" rx="5.0" ry="5.1"/><ellipse cx="482.6" cy="143.2" rx="5.0" ry="5.1"/><ellipse cx="497.2" cy="138.7" rx="5.0" ry="5.1"/><ellipse cx="498.6" cy="93.9" rx="5.0" ry="5.1"/><ellipse cx="494.5" cy="88.2" rx="5.0" ry="5.1"/><ellipse cx="524.5" cy="127.7" rx="5.0" ry="5.1"/><ellipse cx="498.4" cy="116.9" rx="5.0" ry="5.1"/><ellipse cx="500.1" cy="84.5" rx="5.0" ry="5.1"/><ellipse cx="523.9" cy="127.8" rx="5.0" ry="5.1"/><ellipse cx="511.1" cy="100.4" rx="5.0" ry="5.1"/><ellipse cx="484.1" cy="156.3" rx="5.0" ry="5.1"/><ellipse cx="524.2" cy="146.9" rx="5.0" ry="5.1"/><ellipse cx="496.3" cy="129.4" rx="5.0" ry="5.1"/><ellipse cx="500.3" cy="138.9" rx="5.0" ry="5.1"/><ellipse cx="492.4" cy="105.4" rx="5.0" ry="5.1"/><ellipse cx="523.1" cy="119.7" rx="5.0" ry="5.1"/><ellipse cx="490.2" cy="109.4" rx="5.0" ry="5.1"/><ellipse cx="490.8" cy="159.7" rx="5.0" ry="5.1"/><ellipse cx="495.7" cy="126.0" rx="5.0" ry="5.1"/><ellipse cx="487.4" cy="123.8" rx="5.0" ry="5.1"/><ellipse cx="500.1" cy="113.1" rx="5.0" ry="5.1"/><ellipse cx="485.1" cy="90.1" rx="5.0" ry="5.1"/><ellipse cx="493.5" cy="95.7" rx="5.0" ry="5.1"/><ellipse cx="495.3" cy="99.4" rx="5.0" ry="5.1"/><ellipse cx="483.6" cy="134.5" rx="5.0" ry="5.1"/><ellipse cx="498.0" cy="92.8" rx="5.0" ry="5.1"/><ellipse cx="494.7" cy="148.5" rx="5.0" ry="5.1"/><ellipse cx="488.0" cy="116.4" rx="5.0" ry="5.1"/><ellipse cx="521.3" cy="146.0" rx="5.0" ry="5.1"/><ellipse cx="489.5" cy="108.9" rx="5.0" ry="5.1"/><ellipse cx="516.0" cy="110.9" rx="5.0" ry="5.1"/><ellipse cx="492.7" cy="117.1" rx="5.0" ry="5.1"/><ellipse cx="488.2" cy="137.9" rx="5.0" ry="5.1"/><ellipse cx="494.3" cy="153.8" rx="5.0" ry="5.1"/><ellipse cx="509.6" cy="110.2" rx="5.0" ry="5.1"/><ellipse cx="493.6" cy="129.9" rx="5.0" ry="5.1"/><ellipse cx="492.0" cy="151.5" rx="5.0" ry="5.1"/><ellipse cx="487.8" cy="122.1" rx="5.0" ry="5.1"/><ellipse cx="507.5" cy="102.2" rx="5.0" ry="5.1"/><ellipse cx="518.3" cy="111.6" rx="5.0" ry="5.1"/><ellipse cx="512.9" cy="126.5" rx="5.0" ry="5.1"/><ellipse cx="496.6" cy="112.0" rx="5.0" ry="5.1"/><ellipse cx="486.0" cy="94.5" rx="5.0" ry="5.1"/><ellipse cx="508.4" cy="109.6" rx="5.0" ry="5.1"/><ellipse cx="505.5" cy="104.4" rx="5.0" ry="5.1"/><ellipse cx="485.1" cy="105.5" rx="5.0" ry="5.1"/><ellipse cx="492.6" cy="90.3" rx="5.0" ry="5.1"/><ellipse cx="515.7" cy="103.2" rx="5.0" ry="5.1"/><ellipse cx="501.0" cy="154.5" rx="5.0" ry="5.1"/><ellipse cx="518.4" cy="152.4" rx="5.0" ry="5.1"/><ellipse cx="495.0" cy="82.4" rx="5.0" ry="5.1"/><ellipse cx="513.9" cy="134.4" rx="5.0" ry="5.1"/><ellipse cx="498.5" cy="113.8" rx="5.0" ry="5.1"/><ellipse cx="513.0" cy="137.3" rx="5.0" ry="5.1"/><ellipse cx="493.7" cy="149.4" rx="5.0" ry="5.1"/><ellipse cx="498.5" cy="131.6" rx="5.0" ry="5.1"/><ellipse cx="490.5" cy="89.4" rx="5.0" ry="5.1"/><ellipse cx="524.9" cy="140.2" rx="5.0" ry="5.1"/><ellipse cx="483.9" cy="93.3" rx="5.0" ry="5.1"/><ellipse cx="491.3" cy="104.9" rx="5.0" ry="5.1"/><ellipse cx="499.9" cy="83.2" rx="5.0" ry="5.1"/><ellipse cx="496.6" cy="132.3" rx="5.0" ry="5.1"/><ellipse cx="490.4" cy="148.8" rx="5.0" ry="5.1"/><ellipse cx="508.8" cy="138.8" rx="5.0" ry="5.1"/><ellipse cx="494.0" cy="115.7" rx="5.0" ry="5.1"/><ellipse cx="514.2" cy="108.6" rx="5.0" ry="5.1"/><ellipse cx="482.0" cy="148.4" rx="5.0" ry="5.1"/><ellipse cx="484.0" cy="150.0" rx="5.0" ry="5.1"/><ellipse cx="493.5" cy="89.1" rx="5.0" ry="5.1"/><ellipse cx="525.0" cy="141.5" rx="5.0" ry="5.1"/><ellipse cx="486.0" cy="137.0" rx="5.0" ry="5.1"/><ellipse cx="500.5" cy="141.3" rx="5.0" ry="5.1"/><ellipse cx="486.2" cy="157.6" rx="5.0" ry="5.1"/><ellipse cx="501.9" cy="156.3" rx="5.0" ry="5.1"/><ellipse cx="514.5" cy="140.6" rx="5.0" ry="5.1"/><ellipse cx="521.0" cy="131.5" rx="5.0" ry="5.1"/><ellipse cx="503.3" cy="84.5" rx="5.0" ry="5.1"/><ellipse cx="514.8" cy="115.1" rx="5.0" ry="5.1"/><ellipse cx="506.1" cy="156.1" rx="5.0" ry="5.1"/><ellipse cx="488.0" cy="142.5" rx="5.0" ry="5.1"/><ellipse cx="484.1" cy="137.6" rx="5.0" ry="5.1"/><ellipse cx="507.7" cy="159.5" rx="5.0" ry="5.1"/><ellipse cx="512.0" cy="124.6" rx="5.0" ry="5.1"/><ellipse cx="493.7" cy="84.9" rx="5.0" ry="5.1"/><ellipse cx="498.8" cy="113.8" rx="5.0" ry="5.1"/><ellipse cx="491.5" cy="105.5" rx="5.0" ry="5.1"/><ellipse cx="488.4" cy="138.0" rx="5.0" ry="5.1"/><ellipse cx="513.5" cy="99.5" rx="5.0" ry="5.1"/><ellipse cx="493.4" cy="122.3" rx="5.0" ry="5.1"/><ellipse cx="502.9" cy="156.7" rx="5.0" ry="5.1"/><ellipse cx="498.5" cy="104.5" rx="5.0" ry="5.1"/><ellipse cx="508.5" cy="107.4" rx="5.0" ry="5.1"/><ellipse cx="520.3" cy="125.0" rx="5.0" ry="5.1"/><ellipse cx="513.3" cy="129.1" rx="5.0" ry="5.1"/><ellipse cx="503.7" cy="142.8" rx="5.0" ry="5.1"/><ellipse cx="495.6" cy="109.6" rx="5.0" ry="5.1"/><ellipse cx="491.7" cy="84.9" rx="5.0" ry="5.1"/><ellipse cx="495.2" cy="96.2" rx="5.0" ry="5.1"/><ellipse cx="515.0" cy="116.7" rx="5.0" ry="5.1"/><ellipse cx="487.3" cy="106.6" rx="5.0" ry="5.1"/><ellipse cx="504.0" cy="109.8" rx="5.0" ry="5.1"/><ellipse cx="489.9" cy="85.9" rx="5.0" ry="5.1"/><ellipse cx="482.5" cy="161.4" rx="5.0" ry="5.1"/><ellipse cx="515.7" cy="160.4" rx="5.0" ry="5.1"/><ellipse cx="508.5" cy="88.9" rx="5.0" ry="5.1"/><ellipse cx="505.0" cy="115.6" rx="5.0" ry="5.1"/><ellipse cx="490.9" cy="124.5" rx="5.0" ry="5.1"/><ellipse cx="482.4" cy="155.4" rx="5.0" ry="5.1"/><ellipse cx="512.3" cy="131.5" rx="5.0" ry="5.1"/><ellipse cx="526.0" cy="133.5" rx="5.0" ry="5.1"/><ellipse cx="493.8" cy="100.2" rx="5.0" ry="5.1"/><ellipse cx="518.4" cy="148.8" rx="5.0" ry="5.1"/><ellipse cx="495.9" cy="95.2" rx="5.0" ry="5.1"/><ellipse cx="512.0" cy="149.3" rx="5.0" ry="5.1"/><ellipse cx="518.9" cy="148.1" rx="5.0" ry="5.1"/><ellipse cx="476.8" cy="111.5" rx="5.0" ry="5.1"/><ellipse cx="465.7" cy="147.4" rx="5.0" ry="5.1"/><ellipse cx="468.4" cy="114.5" rx="5.0" ry="5.1"/><ellipse cx="473.0" cy="114.6" rx="5.0" ry="5.1"/><ellipse cx="478.6" cy="105.2" rx="5.0" ry="5.1"/><ellipse cx="474.6" cy="147.0" rx="5.0" ry="5.1"/><ellipse cx="476.1" cy="153.2" rx="5.0" ry="5.1"/><ellipse cx="480.9" cy="123.6" rx="5.0" ry="5.1"/><ellipse cx="472.0" cy="99.3" rx="5.0" ry="5.1"/><ellipse cx="468.0" cy="129.8" rx="5.0" ry="5.1"/><ellipse cx="463.6" cy="137.5" rx="5.0" ry="5.1"/><ellipse cx="465.3" cy="119.9" rx="5.0" ry="5.1"/><ellipse cx="481.4" cy="94.5" rx="5.0" ry="5.1"/><ellipse cx="465.8" cy="140.1" rx="5.0" ry="5.1"/><ellipse cx="479.1" cy="144.7" rx="5.0" ry="5.1"/><ellipse cx="470.5" cy="108.4" rx="5.0" ry="5.1"/><ellipse cx="475.2" cy="125.1" rx="5.0" ry="5.1"/><ellipse cx="470.4" cy="112.4" rx="5.0" ry="5.1"/><ellipse cx="470.8" cy="136.0" rx="5.0" ry="5.1"/><ellipse cx="478.5" cy="153.1" rx="5.0" ry="5.1"/><ellipse cx="465.3" cy="109.3" rx="5.0" ry="5.1"/><ellipse cx="470.9" cy="128.6" rx="5.0" ry="5.1"/><ellipse cx="469.0" cy="102.1" rx="5.0" ry="5.1"/><ellipse cx="463.7" cy="111.3" rx="5.0" ry="5.1"/><ellipse cx="480.2" cy="150.3" rx="5.0" ry="5.1"/><ellipse cx="481.5" cy="157.3" rx="5.0" ry="5.1"/><ellipse cx="474.4" cy="146.4" rx="5.0" ry="5.1"/><ellipse cx="474.2" cy="109.4" rx="5.0" ry="5.1"/><ellipse cx="471.6" cy="134.6" rx="5.0" ry="5.1"/><ellipse cx="468.0" cy="112.7" rx="5.0" ry="5.1"/><ellipse cx="462.3" cy="151.4" rx="5.0" ry="5.1"/><ellipse cx="469.1" cy="172.9" rx="5.0" ry="5.1"/><ellipse cx="466.6" cy="176.2" rx="5.0" ry="5.1"/><ellipse cx="465.0" cy="187.4" rx="5.0" ry="5.1"/><ellipse cx="460.7" cy="153.6" rx="5.0" ry="5.1"/><ellipse cx="465.5" cy="153.4" rx="5.0" ry="5.1"/><ellipse cx="475.6" cy="164.0" rx="5.0" ry="5.1"/><ellipse cx="456.0" cy="181.7" rx="5.0" ry="5.1"/><ellipse cx="465.7" cy="162.0" rx="5.0" ry="5.1"/><ellipse cx="466.3" cy="153.5" rx="5.0" ry="5.1"/><ellipse cx="464.4" cy="189.1" rx="5.0" ry="5.1"/><ellipse cx="450.6" cy="175.6" rx="5.0" ry="5.1"/><ellipse cx="450.4" cy="178.0" rx="5.0" ry="5.1"/><ellipse cx="475.6" cy="186.3" rx="5.0" ry="5.1"/><ellipse cx="470.9" cy="201.8" rx="5.0" ry="5.1"/><ellipse cx="471.1" cy="152.7" rx="5.0" ry="5.1"/><ellipse cx="474.6" cy="174.4" rx="5.0" ry="5.1"/><ellipse cx="466.0" cy="203.1" rx="5.0" ry="5.1"/><ellipse cx="449.8" cy="162.8" rx="5.0" ry="5.1"/><ellipse cx="467.0" cy="161.0" rx="5.0" ry="5.1"/><ellipse cx="457.6" cy="198.1" rx="5.0" ry="5.1"/><ellipse cx="467.9" cy="210.4" rx="5.0" ry="5.1"/><ellipse cx="466.0" cy="213.8" rx="5.0" ry="5.1"/><ellipse cx="475.9" cy="157.6" rx="5.0" ry="5.1"/><ellipse cx="471.9" cy="170.6" rx="5.0" ry="5.1"/><ellipse cx="472.4" cy="196.0" rx="5.0" ry="5.1"/><ellipse cx="474.4" cy="154.2" rx="5.0" ry="5.1"/><ellipse cx="459.9" cy="200.3" rx="5.0" ry="5.1"/><ellipse cx="478.3" cy="199.1" rx="5.0" ry="5.1"/><ellipse cx="473.7" cy="153.5" rx="5.0" ry="5.1"/><ellipse cx="474.7" cy="50.3" rx="5.0" ry="5.1"/><ellipse cx="484.3" cy="78.0" rx="5.0" ry="5.1"/><ellipse cx="491.1" cy="46.9" rx="5.0" ry="5.1"/><ellipse cx="489.7" cy="54.5" rx="5.0" ry="5.1"/><ellipse cx="496.4" cy="58.4" rx="5.0" ry="5.1"/><ellipse cx="488.9" cy="71.6" rx="5.0" ry="5.1"/></g><path d="M563.0 192.0 L572.0 184.0 L588.0 181.0 L599.0 185.0 L603.0 195.0 L605.0 210.0 L605.0 225.0 L603.0 242.0 L600.0 260.0 L596.0 276.0 L590.0 284.0 L575.0 286.0 L563.0 285.0 L561.0 260.0 L560.0 220.0 L560.0 200.0Z" fill="#fb8072"/><g fill="#fb8072" fill-opacity="0.5" stroke="#fb8072" stroke-opacity="0.5" stroke-width="1.7"><ellipse cx="615.0" cy="110.7" rx="5.0" ry="5.1"/><ellipse cx="629.6" cy="119.4" rx="5.0" ry="5.1"/><ellipse cx="588.7" cy="134.6" rx="5.0" ry="5.1"/><ellipse cx="627.5" cy="134.0" rx="5.0" ry="5.1"/><ellipse cx="610.0" cy="138.7" rx="5.0" ry="5.1"/><ellipse cx="632.9" cy="147.6" rx="5.0" ry="5.1"/><ellipse cx="607.4" cy="147.6" rx="5.0" ry="5.1"/><ellipse cx="584.6" cy="149.0" rx="5.0" ry="5.1"/><ellipse cx="580.4" cy="157.4" rx="5.0" ry="5.1"/><ellipse cx="563.2" cy="168.4" rx="5.0" ry="5.1"/><ellipse cx="572.0" cy="163.6" rx="5.0" ry="5.1"/><ellipse cx="591.8" cy="159.4" rx="5.0" ry="5.1"/><ellipse cx="608.4" cy="160.5" rx="5.0" ry="5.1"/><ellipse cx="616.7" cy="158.4" rx="5.0" ry="5.1"/><ellipse cx="629.1" cy="166.7" rx="5.0" ry="5.1"/><ellipse cx="622.9" cy="174.0" rx="5.0" ry="5.1"/><ellipse cx="630.2" cy="184.3" rx="5.0" ry="5.1"/><ellipse cx="639.1" cy="189.1" rx="5.0" ry="5.1"/><ellipse cx="622.9" cy="196.8" rx="5.0" ry="5.1"/><ellipse cx="620.8" cy="211.3" rx="5.0" ry="5.1"/><ellipse cx="635.0" cy="210.2" rx="5.0" ry="5.1"/><ellipse cx="610.5" cy="199.9" rx="5.0" ry="5.1"/><ellipse cx="612.6" cy="218.5" rx="5.0" ry="5.1"/><ellipse cx="622.6" cy="200.0" rx="5.0" ry="5.1"/><ellipse cx="617.4" cy="238.4" rx="5.0" ry="5.1"/><ellipse cx="618.5" cy="249.8" rx="5.0" ry="5.1"/><ellipse cx="609.0" cy="244.6" rx="5.0" ry="5.1"/><ellipse cx="614.3" cy="220.7" rx="5.0" ry="5.1"/><ellipse cx="603.0" cy="262.0" rx="5.0" ry="5.1"/><ellipse cx="597.0" cy="165.0" rx="5.0" ry="5.1"/><ellipse cx="603.0" cy="168.0" rx="5.0" ry="5.1"/><ellipse cx="612.0" cy="172.0" rx="5.0" ry="5.1"/><ellipse cx="617.0" cy="180.0" rx="5.0" ry="5.1"/><ellipse cx="600.0" cy="158.0" rx="5.0" ry="5.1"/><ellipse cx="566.2" cy="194.7" rx="5.0" ry="5.1"/><ellipse cx="563.2" cy="195.4" rx="5.0" ry="5.1"/><ellipse cx="568.5" cy="190.4" rx="5.0" ry="5.1"/><ellipse cx="569.3" cy="192.9" rx="5.0" ry="5.1"/><ellipse cx="570.4" cy="188.0" rx="5.0" ry="5.1"/><ellipse cx="573.3" cy="188.5" rx="5.0" ry="5.1"/><ellipse cx="572.5" cy="186.0" rx="5.0" ry="5.1"/><ellipse cx="578.4" cy="186.8" rx="5.0" ry="5.1"/><ellipse cx="577.5" cy="185.3" rx="5.0" ry="5.1"/><ellipse cx="584.1" cy="184.5" rx="5.0" ry="5.1"/><ellipse cx="584.2" cy="184.9" rx="5.0" ry="5.1"/><ellipse cx="585.8" cy="184.3" rx="5.0" ry="5.1"/><ellipse cx="592.0" cy="185.0" rx="5.0" ry="5.1"/><ellipse cx="595.6" cy="186.5" rx="5.0" ry="5.1"/><ellipse cx="595.6" cy="188.2" rx="5.0" ry="5.1"/><ellipse cx="600.3" cy="193.6" rx="5.0" ry="5.1"/><ellipse cx="599.0" cy="194.3" rx="5.0" ry="5.1"/><ellipse cx="601.5" cy="198.7" rx="5.0" ry="5.1"/><ellipse cx="599.8" cy="199.3" rx="5.0" ry="5.1"/><ellipse cx="602.7" cy="205.9" rx="5.0" ry="5.1"/><ellipse cx="600.4" cy="207.7" rx="5.0" ry="5.1"/><ellipse cx="601.8" cy="210.3" rx="5.0" ry="5.1"/><ellipse cx="602.0" cy="210.6" rx="5.0" ry="5.1"/><ellipse cx="601.0" cy="212.3" rx="5.0" ry="5.1"/><ellipse cx="601.7" cy="218.3" rx="5.0" ry="5.1"/><ellipse cx="600.5" cy="219.0" rx="5.0" ry="5.1"/><ellipse cx="599.4" cy="224.2" rx="5.0" ry="5.1"/><ellipse cx="601.4" cy="226.5" rx="5.0" ry="5.1"/><ellipse cx="599.7" cy="227.0" rx="5.0" ry="5.1"/><ellipse cx="600.0" cy="233.5" rx="5.0" ry="5.1"/><ellipse cx="602.5" cy="235.9" rx="5.0" ry="5.1"/><ellipse cx="600.3" cy="239.3" rx="5.0" ry="5.1"/><ellipse cx="600.1" cy="244.3" rx="5.0" ry="5.1"/><ellipse cx="600.5" cy="245.2" rx="5.0" ry="5.1"/><ellipse cx="596.3" cy="250.0" rx="5.0" ry="5.1"/><ellipse cx="596.8" cy="252.0" rx="5.0" ry="5.1"/><ellipse cx="596.2" cy="252.4" rx="5.0" ry="5.1"/><ellipse cx="595.6" cy="258.1" rx="5.0" ry="5.1"/><ellipse cx="597.2" cy="261.6" rx="5.0" ry="5.1"/><ellipse cx="594.1" cy="265.6" rx="5.0" ry="5.1"/><ellipse cx="595.0" cy="266.7" rx="5.0" ry="5.1"/><ellipse cx="595.7" cy="270.7" rx="5.0" ry="5.1"/><ellipse cx="592.1" cy="272.6" rx="5.0" ry="5.1"/><ellipse cx="592.4" cy="278.4" rx="5.0" ry="5.1"/><ellipse cx="590.2" cy="278.5" rx="5.0" ry="5.1"/><ellipse cx="587.7" cy="282.0" rx="5.0" ry="5.1"/><ellipse cx="586.4" cy="280.6" rx="5.0" ry="5.1"/><ellipse cx="587.0" cy="280.5" rx="5.0" ry="5.1"/><ellipse cx="582.6" cy="280.7" rx="5.0" ry="5.1"/><ellipse cx="576.9" cy="284.3" rx="5.0" ry="5.1"/><ellipse cx="578.2" cy="280.5" rx="5.0" ry="5.1"/><ellipse cx="574.5" cy="281.8" rx="5.0" ry="5.1"/><ellipse cx="570.3" cy="280.8" rx="5.0" ry="5.1"/><ellipse cx="565.0" cy="283.6" rx="5.0" ry="5.1"/><ellipse cx="565.2" cy="282.4" rx="5.0" ry="5.1"/><ellipse cx="591.1" cy="177.0" rx="5.0" ry="5.1"/><ellipse cx="593.3" cy="164.6" rx="5.0" ry="5.1"/><ellipse cx="599.8" cy="161.8" rx="5.0" ry="5.1"/><ellipse cx="598.4" cy="181.0" rx="5.0" ry="5.1"/><ellipse cx="601.5" cy="163.8" rx="5.0" ry="5.1"/><ellipse cx="586.3" cy="162.6" rx="5.0" ry="5.1"/><ellipse cx="587.4" cy="176.9" rx="5.0" ry="5.1"/><ellipse cx="601.4" cy="165.8" rx="5.0" ry="5.1"/><ellipse cx="611.5" cy="160.7" rx="5.0" ry="5.1"/><ellipse cx="567.8" cy="171.1" rx="5.0" ry="5.1"/><ellipse cx="591.1" cy="158.9" rx="5.0" ry="5.1"/><ellipse cx="609.2" cy="165.9" rx="5.0" ry="5.1"/><ellipse cx="572.0" cy="158.7" rx="5.0" ry="5.1"/><ellipse cx="601.6" cy="161.2" rx="5.0" ry="5.1"/><ellipse cx="611.2" cy="171.0" rx="5.0" ry="5.1"/><ellipse cx="594.9" cy="165.1" rx="5.0" ry="5.1"/><ellipse cx="602.6" cy="169.5" rx="5.0" ry="5.1"/><ellipse cx="580.2" cy="186.3" rx="5.0" ry="5.1"/><ellipse cx="570.1" cy="179.9" rx="5.0" ry="5.1"/><ellipse cx="568.1" cy="176.5" rx="5.0" ry="5.1"/><ellipse cx="583.9" cy="184.8" rx="5.0" ry="5.1"/><ellipse cx="567.8" cy="173.4" rx="5.0" ry="5.1"/><ellipse cx="584.3" cy="186.9" rx="5.0" ry="5.1"/><ellipse cx="609.4" cy="175.8" rx="5.0" ry="5.1"/><ellipse cx="575.5" cy="161.6" rx="5.0" ry="5.1"/><ellipse cx="577.3" cy="168.5" rx="5.0" ry="5.1"/><ellipse cx="575.9" cy="159.7" rx="5.0" ry="5.1"/><ellipse cx="600.7" cy="176.4" rx="5.0" ry="5.1"/><ellipse cx="575.2" cy="173.6" rx="5.0" ry="5.1"/><ellipse cx="572.4" cy="184.8" rx="5.0" ry="5.1"/><ellipse cx="605.9" cy="162.2" rx="5.0" ry="5.1"/><ellipse cx="600.3" cy="183.3" rx="5.0" ry="5.1"/><ellipse cx="578.3" cy="164.6" rx="5.0" ry="5.1"/><ellipse cx="587.8" cy="185.9" rx="5.0" ry="5.1"/><ellipse cx="601.6" cy="247.6" rx="5.0" ry="5.1"/><ellipse cx="611.1" cy="224.2" rx="5.0" ry="5.1"/><ellipse cx="602.6" cy="268.1" rx="5.0" ry="5.1"/><ellipse cx="605.9" cy="257.5" rx="5.0" ry="5.1"/><ellipse cx="617.0" cy="196.6" rx="5.0" ry="5.1"/><ellipse cx="604.5" cy="180.5" rx="5.0" ry="5.1"/><ellipse cx="601.3" cy="253.1" rx="5.0" ry="5.1"/><ellipse cx="600.1" cy="195.2" rx="5.0" ry="5.1"/><ellipse cx="613.0" cy="187.2" rx="5.0" ry="5.1"/><ellipse cx="603.2" cy="258.8" rx="5.0" ry="5.1"/><ellipse cx="613.2" cy="181.9" rx="5.0" ry="5.1"/><ellipse cx="609.1" cy="201.6" rx="5.0" ry="5.1"/><ellipse cx="607.5" cy="188.7" rx="5.0" ry="5.1"/><ellipse cx="598.4" cy="279.1" rx="5.0" ry="5.1"/><ellipse cx="605.0" cy="267.6" rx="5.0" ry="5.1"/><ellipse cx="601.0" cy="221.7" rx="5.0" ry="5.1"/><ellipse cx="601.9" cy="247.9" rx="5.0" ry="5.1"/><ellipse cx="601.3" cy="253.3" rx="5.0" ry="5.1"/><ellipse cx="609.0" cy="189.5" rx="5.0" ry="5.1"/><ellipse cx="605.8" cy="228.6" rx="5.0" ry="5.1"/><ellipse cx="618.2" cy="213.6" rx="5.0" ry="5.1"/><ellipse cx="604.0" cy="196.1" rx="5.0" ry="5.1"/><ellipse cx="603.8" cy="185.0" rx="5.0" ry="5.1"/><ellipse cx="607.0" cy="234.8" rx="5.0" ry="5.1"/><ellipse cx="606.0" cy="179.1" rx="5.0" ry="5.1"/><ellipse cx="613.1" cy="244.6" rx="5.0" ry="5.1"/><ellipse cx="610.0" cy="234.0" rx="5.0" ry="5.1"/><ellipse cx="606.8" cy="210.5" rx="5.0" ry="5.1"/><ellipse cx="606.5" cy="217.3" rx="5.0" ry="5.1"/><ellipse cx="607.0" cy="192.6" rx="5.0" ry="5.1"/><ellipse cx="603.6" cy="240.3" rx="5.0" ry="5.1"/><ellipse cx="606.3" cy="202.6" rx="5.0" ry="5.1"/><ellipse cx="602.4" cy="189.8" rx="5.0" ry="5.1"/><ellipse cx="613.3" cy="211.1" rx="5.0" ry="5.1"/><ellipse cx="612.2" cy="234.0" rx="5.0" ry="5.1"/><ellipse cx="616.8" cy="230.0" rx="5.0" ry="5.1"/><ellipse cx="603.2" cy="242.2" rx="5.0" ry="5.1"/><ellipse cx="614.4" cy="216.6" rx="5.0" ry="5.1"/><ellipse cx="613.7" cy="218.1" rx="5.0" ry="5.1"/><ellipse cx="609.6" cy="240.5" rx="5.0" ry="5.1"/><ellipse cx="612.9" cy="210.9" rx="5.0" ry="5.1"/><ellipse cx="611.8" cy="233.4" rx="5.0" ry="5.1"/><ellipse cx="602.9" cy="240.5" rx="5.0" ry="5.1"/><ellipse cx="603.8" cy="270.7" rx="5.0" ry="5.1"/><ellipse cx="608.4" cy="251.6" rx="5.0" ry="5.1"/><ellipse cx="609.5" cy="226.6" rx="5.0" ry="5.1"/><ellipse cx="602.9" cy="192.5" rx="5.0" ry="5.1"/><ellipse cx="618.4" cy="231.9" rx="5.0" ry="5.1"/><ellipse cx="609.5" cy="231.8" rx="5.0" ry="5.1"/><ellipse cx="615.9" cy="202.3" rx="5.0" ry="5.1"/><ellipse cx="573.8" cy="170.1" rx="5.0" ry="5.1"/><ellipse cx="610.8" cy="191.7" rx="5.0" ry="5.1"/><ellipse cx="590.8" cy="157.0" rx="5.0" ry="5.1"/><ellipse cx="604.6" cy="185.9" rx="5.0" ry="5.1"/><ellipse cx="608.3" cy="162.0" rx="5.0" ry="5.1"/><ellipse cx="603.8" cy="179.4" rx="5.0" ry="5.1"/><ellipse cx="594.7" cy="169.0" rx="5.0" ry="5.1"/><ellipse cx="568.3" cy="164.3" rx="5.0" ry="5.1"/><ellipse cx="605.9" cy="172.0" rx="5.0" ry="5.1"/><ellipse cx="583.5" cy="169.3" rx="5.0" ry="5.1"/></g><path d="M526.5 209.0 L530.0 206.0 L536.0 207.0 L540.0 211.0 L542.4 225.0 L545.2 244.0 L548.1 270.7 L548.3 271.6 L550.4 253.5 L552.8 234.5 L556.6 228.0 L561.0 225.0 L564.5 226.0 L565.7 234.0 L565.7 287.0 L562.0 291.5 L545.0 295.2 L530.0 292.0 L525.5 289.0 L525.5 215.0Z" fill="#666666"/><g fill="#666666" fill-opacity="0.5" stroke="#666666" stroke-opacity="0.5" stroke-width="1.4"><ellipse cx="553.7" cy="199.6" rx="2.9" ry="3.1"/><ellipse cx="529.6" cy="132.4" rx="2.9" ry="3.1"/><ellipse cx="530.0" cy="180.0" rx="2.9" ry="3.1"/><ellipse cx="534.0" cy="186.0" rx="2.9" ry="3.1"/><ellipse cx="532.0" cy="193.0" rx="2.9" ry="3.1"/><ellipse cx="536.0" cy="199.0" rx="2.9" ry="3.1"/><ellipse cx="530.0" cy="203.0" rx="2.9" ry="3.1"/><ellipse cx="559.0" cy="214.0" rx="2.9" ry="3.1"/><ellipse cx="562.0" cy="218.0" rx="2.9" ry="3.1"/><ellipse cx="556.0" cy="219.0" rx="2.9" ry="3.1"/><ellipse cx="560.0" cy="208.0" rx="2.9" ry="3.1"/><ellipse cx="528.4" cy="212.4" rx="2.9" ry="3.1"/><ellipse cx="529.1" cy="209.9" rx="2.9" ry="3.1"/><ellipse cx="530.2" cy="210.1" rx="2.9" ry="3.1"/><ellipse cx="530.4" cy="209.7" rx="2.9" ry="3.1"/><ellipse cx="530.5" cy="209.3" rx="2.9" ry="3.1"/><ellipse cx="533.3" cy="209.5" rx="2.9" ry="3.1"/><ellipse cx="534.4" cy="210.8" rx="2.9" ry="3.1"/><ellipse cx="534.8" cy="210.0" rx="2.9" ry="3.1"/><ellipse cx="535.8" cy="210.9" rx="2.9" ry="3.1"/><ellipse cx="536.9" cy="211.9" rx="2.9" ry="3.1"/><ellipse cx="536.9" cy="213.3" rx="2.9" ry="3.1"/><ellipse cx="536.5" cy="215.2" rx="2.9" ry="3.1"/><ellipse cx="537.5" cy="217.1" rx="2.9" ry="3.1"/><ellipse cx="537.9" cy="219.1" rx="2.9" ry="3.1"/><ellipse cx="538.3" cy="220.5" rx="2.9" ry="3.1"/><ellipse cx="539.1" cy="223.6" rx="2.9" ry="3.1"/><ellipse cx="538.1" cy="224.7" rx="2.9" ry="3.1"/><ellipse cx="539.8" cy="227.0" rx="2.9" ry="3.1"/><ellipse cx="538.9" cy="226.8" rx="2.9" ry="3.1"/><ellipse cx="539.2" cy="230.1" rx="2.9" ry="3.1"/><ellipse cx="540.3" cy="231.8" rx="2.9" ry="3.1"/><ellipse cx="540.8" cy="234.3" rx="2.9" ry="3.1"/><ellipse cx="540.9" cy="234.9" rx="2.9" ry="3.1"/><ellipse cx="541.9" cy="238.6" rx="2.9" ry="3.1"/><ellipse cx="540.7" cy="240.1" rx="2.9" ry="3.1"/><ellipse cx="540.6" cy="242.5" rx="2.9" ry="3.1"/><ellipse cx="541.3" cy="242.8" rx="2.9" ry="3.1"/><ellipse cx="542.6" cy="244.9" rx="2.9" ry="3.1"/><ellipse cx="542.1" cy="246.4" rx="2.9" ry="3.1"/><ellipse cx="543.1" cy="249.3" rx="2.9" ry="3.1"/><ellipse cx="542.3" cy="251.2" rx="2.9" ry="3.1"/><ellipse cx="542.8" cy="251.9" rx="2.9" ry="3.1"/><ellipse cx="543.0" cy="254.9" rx="2.9" ry="3.1"/><ellipse cx="543.8" cy="256.0" rx="2.9" ry="3.1"/><ellipse cx="543.7" cy="258.7" rx="2.9" ry="3.1"/><ellipse cx="543.7" cy="260.0" rx="2.9" ry="3.1"/><ellipse cx="543.6" cy="262.2" rx="2.9" ry="3.1"/><ellipse cx="543.8" cy="265.3" rx="2.9" ry="3.1"/><ellipse cx="544.5" cy="266.8" rx="2.9" ry="3.1"/><ellipse cx="544.5" cy="269.7" rx="2.9" ry="3.1"/><ellipse cx="544.5" cy="269.5" rx="2.9" ry="3.1"/><ellipse cx="545.5" cy="270.7" rx="2.9" ry="3.1"/><ellipse cx="551.1" cy="271.7" rx="2.9" ry="3.1"/><ellipse cx="552.4" cy="269.2" rx="2.9" ry="3.1"/><ellipse cx="552.5" cy="266.8" rx="2.9" ry="3.1"/><ellipse cx="552.9" cy="265.5" rx="2.9" ry="3.1"/><ellipse cx="552.1" cy="262.4" rx="2.9" ry="3.1"/><ellipse cx="553.2" cy="263.6" rx="2.9" ry="3.1"/><ellipse cx="553.2" cy="259.9" rx="2.9" ry="3.1"/><ellipse cx="553.6" cy="257.0" rx="2.9" ry="3.1"/><ellipse cx="553.6" cy="256.6" rx="2.9" ry="3.1"/><ellipse cx="553.3" cy="253.7" rx="2.9" ry="3.1"/><ellipse cx="553.5" cy="252.9" rx="2.9" ry="3.1"/><ellipse cx="554.7" cy="251.4" rx="2.9" ry="3.1"/><ellipse cx="553.7" cy="249.1" rx="2.9" ry="3.1"/><ellipse cx="554.4" cy="245.5" rx="2.9" ry="3.1"/><ellipse cx="555.0" cy="245.1" rx="2.9" ry="3.1"/><ellipse cx="554.3" cy="243.3" rx="2.9" ry="3.1"/><ellipse cx="555.2" cy="241.5" rx="2.9" ry="3.1"/><ellipse cx="556.0" cy="239.7" rx="2.9" ry="3.1"/><ellipse cx="556.7" cy="237.8" rx="2.9" ry="3.1"/><ellipse cx="555.6" cy="235.5" rx="2.9" ry="3.1"/><ellipse cx="556.4" cy="235.7" rx="2.9" ry="3.1"/><ellipse cx="556.7" cy="235.0" rx="2.9" ry="3.1"/><ellipse cx="558.2" cy="231.2" rx="2.9" ry="3.1"/><ellipse cx="558.2" cy="231.8" rx="2.9" ry="3.1"/><ellipse cx="559.8" cy="230.2" rx="2.9" ry="3.1"/><ellipse cx="560.9" cy="230.0" rx="2.9" ry="3.1"/><ellipse cx="561.5" cy="228.6" rx="2.9" ry="3.1"/><ellipse cx="561.6" cy="228.6" rx="2.9" ry="3.1"/><ellipse cx="561.7" cy="226.4" rx="2.9" ry="3.1"/><ellipse cx="561.4" cy="229.3" rx="2.9" ry="3.1"/><ellipse cx="561.3" cy="231.7" rx="2.9" ry="3.1"/><ellipse cx="562.5" cy="234.0" rx="2.9" ry="3.1"/><ellipse cx="527.4" cy="285.8" rx="2.9" ry="3.1"/><ellipse cx="529.4" cy="288.0" rx="2.9" ry="3.1"/><ellipse cx="530.7" cy="288.8" rx="2.9" ry="3.1"/><ellipse cx="530.6" cy="289.4" rx="2.9" ry="3.1"/><ellipse cx="533.6" cy="289.8" rx="2.9" ry="3.1"/><ellipse cx="534.9" cy="289.3" rx="2.9" ry="3.1"/><ellipse cx="537.5" cy="290.3" rx="2.9" ry="3.1"/><ellipse cx="538.7" cy="290.5" rx="2.9" ry="3.1"/><ellipse cx="540.4" cy="290.8" rx="2.9" ry="3.1"/><ellipse cx="542.3" cy="291.2" rx="2.9" ry="3.1"/><ellipse cx="543.7" cy="291.3" rx="2.9" ry="3.1"/><ellipse cx="545.9" cy="292.1" rx="2.9" ry="3.1"/><ellipse cx="546.7" cy="291.5" rx="2.9" ry="3.1"/><ellipse cx="549.7" cy="291.1" rx="2.9" ry="3.1"/><ellipse cx="550.7" cy="290.2" rx="2.9" ry="3.1"/><ellipse cx="551.8" cy="290.1" rx="2.9" ry="3.1"/><ellipse cx="554.5" cy="290.2" rx="2.9" ry="3.1"/><ellipse cx="555.9" cy="289.2" rx="2.9" ry="3.1"/><ellipse cx="559.0" cy="289.1" rx="2.9" ry="3.1"/><ellipse cx="559.2" cy="288.8" rx="2.9" ry="3.1"/><ellipse cx="561.7" cy="287.6" rx="2.9" ry="3.1"/><ellipse cx="564.0" cy="286.4" rx="2.9" ry="3.1"/><ellipse cx="566.8" cy="285.9" rx="2.9" ry="3.1"/><ellipse cx="567.7" cy="285.2" rx="2.9" ry="3.1"/><ellipse cx="532.3" cy="177.9" rx="2.9" ry="3.1"/><ellipse cx="530.2" cy="199.2" rx="2.9" ry="3.1"/><ellipse cx="531.5" cy="179.6" rx="2.9" ry="3.1"/><ellipse cx="529.6" cy="182.2" rx="2.9" ry="3.1"/><ellipse cx="531.3" cy="207.2" rx="2.9" ry="3.1"/><ellipse cx="533.2" cy="191.4" rx="2.9" ry="3.1"/><ellipse cx="537.1" cy="205.0" rx="2.9" ry="3.1"/><ellipse cx="536.8" cy="196.0" rx="2.9" ry="3.1"/><ellipse cx="529.6" cy="195.6" rx="2.9" ry="3.1"/><ellipse cx="538.0" cy="201.0" rx="2.9" ry="3.1"/><ellipse cx="528.2" cy="198.7" rx="2.9" ry="3.1"/><ellipse cx="531.5" cy="180.4" rx="2.9" ry="3.1"/><ellipse cx="537.8" cy="205.9" rx="2.9" ry="3.1"/><ellipse cx="537.8" cy="201.5" rx="2.9" ry="3.1"/><ellipse cx="534.7" cy="189.4" rx="2.9" ry="3.1"/><ellipse cx="537.7" cy="200.9" rx="2.9" ry="3.1"/><ellipse cx="530.3" cy="202.7" rx="2.9" ry="3.1"/><ellipse cx="530.0" cy="181.5" rx="2.9" ry="3.1"/><ellipse cx="533.0" cy="182.8" rx="2.9" ry="3.1"/><ellipse cx="533.4" cy="205.0" rx="2.9" ry="3.1"/><ellipse cx="535.9" cy="198.4" rx="2.9" ry="3.1"/><ellipse cx="532.1" cy="200.9" rx="2.9" ry="3.1"/><ellipse cx="537.3" cy="197.5" rx="2.9" ry="3.1"/><ellipse cx="532.3" cy="177.9" rx="2.9" ry="3.1"/><ellipse cx="561.9" cy="225.4" rx="2.9" ry="3.1"/><ellipse cx="559.1" cy="221.5" rx="2.9" ry="3.1"/><ellipse cx="563.5" cy="224.7" rx="2.9" ry="3.1"/><ellipse cx="556.0" cy="219.8" rx="2.9" ry="3.1"/></g><g clip-path="url(#cb)"><path d="M528.45 304.2V22.5" stroke="#5f5f5f" stroke-width="1.6" stroke-dasharray="13.4 6.1" fill="none"/><path d="M562.35 304.2V22.5" stroke="#5f5f5f" stroke-width="1.6" stroke-dasharray="13.4 6.1" fill="none"/><path d="M408.1 282.48H682.2" stroke="#5f5f5f" stroke-width="1.6" stroke-dasharray="12.8 5.8" fill="none"/></g><rect x="408.1" y="22.5" width="274.1" height="281.7" fill="none" stroke="#000" stroke-width="2" stroke-linejoin="round"/><line x1="401.5" y1="291.60" x2="408.1" y2="291.60" stroke="#000" stroke-width="1.8"/><text transform="translate(395.50,297.50) scale(1,1.04)" text-anchor="end" font-size="15">0</text><line x1="401.5" y1="221.47" x2="408.1" y2="221.47" stroke="#000" stroke-width="1.8"/><text transform="translate(395.50,227.37) scale(1,1.04)" text-anchor="end" font-size="15">10</text><line x1="401.5" y1="151.33" x2="408.1" y2="151.33" stroke="#000" stroke-width="1.8"/><text transform="translate(395.50,157.23) scale(1,1.04)" text-anchor="end" font-size="15">20</text><line x1="401.5" y1="81.20" x2="408.1" y2="81.20" stroke="#000" stroke-width="1.8"/><text transform="translate(395.50,87.10) scale(1,1.04)" text-anchor="end" font-size="15">30</text><line x1="409.80" y1="304.2" x2="409.80" y2="311.2" stroke="#000" stroke-width="1.8"/><text transform="translate(409.80,329.00) scale(1,1.04)" text-anchor="middle" font-size="15">-8</text><line x1="477.60" y1="304.2" x2="477.60" y2="311.2" stroke="#000" stroke-width="1.8"/><text transform="translate(477.60,329.00) scale(1,1.04)" text-anchor="middle" font-size="15">-4</text><line x1="545.40" y1="304.2" x2="545.40" y2="311.2" stroke="#000" stroke-width="1.8"/><text transform="translate(545.40,329.00) scale(1,1.04)" text-anchor="middle" font-size="15">0</text><line x1="613.20" y1="304.2" x2="613.20" y2="311.2" stroke="#000" stroke-width="1.8"/><text transform="translate(613.20,329.00) scale(1,1.04)" text-anchor="middle" font-size="15">4</text><line x1="681.00" y1="304.2" x2="681.00" y2="311.2" stroke="#000" stroke-width="1.8"/><text transform="translate(681.00,329.00) scale(1,1.04)" text-anchor="middle" font-size="15">8</text>
<text transform="translate(1.35,16.80) scale(1,1.110)" font-size="22.70">A</text>
<text transform="translate(360.50,17.65) scale(1,1.110)" font-size="22.70">B</text>
<text transform="translate(175.90,15.25) scale(1,1.100)" font-size="17.15">TCGA</text>
<text transform="translate(503.60,15.25) scale(1,1.100)" font-size="17.15">GSE42568</text>
<text transform="translate(123.90,352.30) scale(1,1.190)" font-size="16.80">Log</text>
<text transform="translate(152.70,357.90) scale(1,1.130)" font-size="14.30">2</text>
<text transform="translate(164.70,352.40) scale(1,1.110)" font-size="17.20">(Fold Change)</text>
<text transform="translate(469.60,352.30) scale(1,1.190)" font-size="16.80">Log</text>
<text transform="translate(498.40,357.90) scale(1,1.130)" font-size="14.30">2</text>
<text transform="translate(510.40,352.40) scale(1,1.110)" font-size="17.20">(Fold Change)</text>
<text transform="translate(13.50,220.90) rotate(-90)" font-size="18.00">-Log</text>
<text transform="translate(19.00,180.00) rotate(-90)" font-size="13.80">10</text>
<text transform="translate(13.50,158.10) rotate(-90)" font-size="18.00">(P.adj)</text>
<text transform="translate(363.10,220.90) rotate(-90)" font-size="18.00">-Log</text>
<text transform="translate(368.60,180.00) rotate(-90)" font-size="13.80">10</text>
<text transform="translate(363.10,158.10) rotate(-90)" font-size="18.00">(P.adj)</text>
<text x="82" y="397" font-size="23">C</text>
<g stroke="#000" stroke-width="1.7">
<ellipse cx="372.2" cy="533.5" rx="110.7" ry="114.1" fill="#80b1d3" fill-opacity="0.4"/>
<ellipse cx="316.7" cy="647.75" rx="110.4" ry="114.05" fill="#fb8072" fill-opacity="0.4"/>
<ellipse cx="427.7" cy="647.75" rx="110.4" ry="114.05" fill="#bebada" fill-opacity="0.4"/>
</g>
<g font-size="13.7" text-anchor="middle">
<text transform="translate(372.5,493.3) scale(1,1.1)">1023</text>
<text transform="translate(309.4,576.0) scale(1,1.1)">272</text>
<text transform="translate(434.2,576.0) scale(1,1.1)">128</text>
<text transform="translate(372.3,612.4) scale(1,1.1)">113</text>
<text transform="translate(273.0,678.1) scale(1,1.1)">3397</text>
<text transform="translate(372.3,689.1) scale(1,1.1)">1291</text>
<text transform="translate(472.0,678.1) scale(1,1.1)">1663</text>
</g>
<g text-anchor="middle">
<text transform="translate(372.15,402.8) scale(1,1.06)" font-size="16.1">TF family (1536)</text>
<text transform="translate(225.6,783.0) scale(1,1.04)" font-size="16.45">TCGA-DEGs (5073)</text>
<text transform="translate(518.55,783.0) scale(1,1.04)" font-size="16.45">GSE42568-DEGs (3195)</text>
</g>

</svg></body></html>
